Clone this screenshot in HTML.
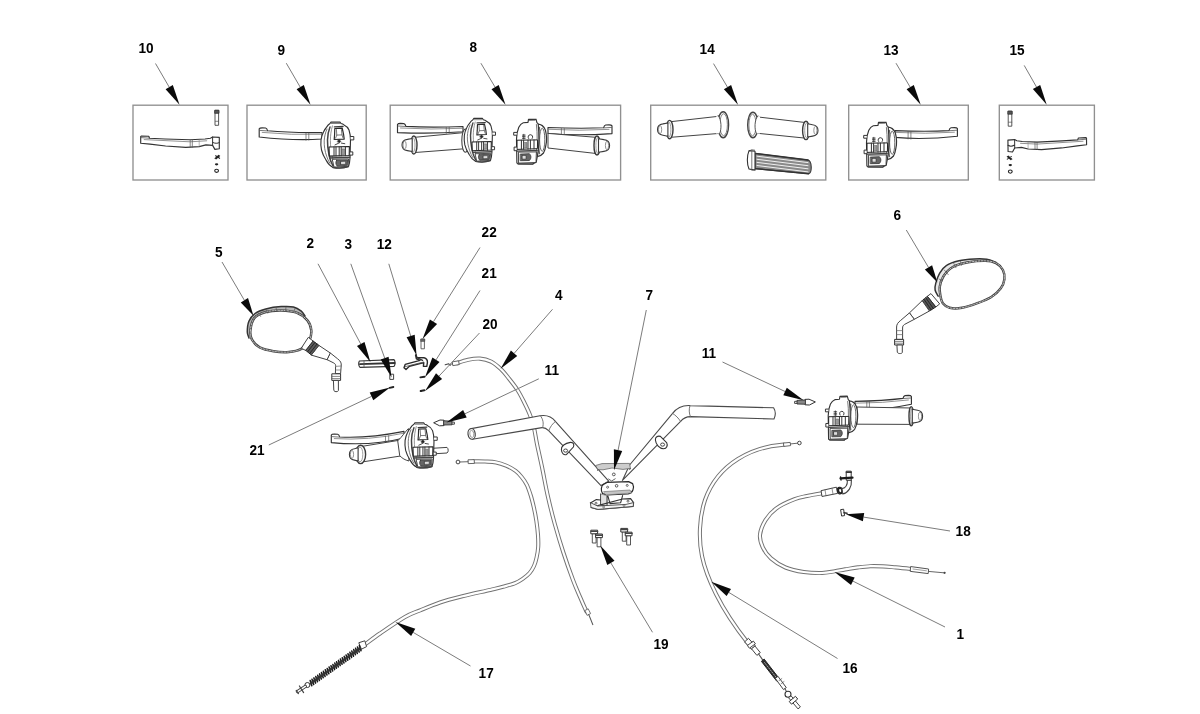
<!DOCTYPE html>
<html><head><meta charset="utf-8"><title>Handlebar - controls</title>
<style>
html,body{margin:0;padding:0;background:#fff;}
body{width:1200px;height:714px;overflow:hidden;font-family:"Liberation Sans",sans-serif;}
svg{display:block;filter:blur(0.4px)}
.lb{font-family:"Liberation Sans",sans-serif;font-weight:700;font-size:13.6px;fill:#000;}
</style></head><body>
<svg width="1200" height="714" viewBox="0 0 1200 714">
<rect width="1200" height="714" fill="#fff"/>
<rect x="133" y="105.2" width="95.0" height="74.8" fill="none" stroke="#909090" stroke-width="1.35"/>
<rect x="247" y="105.2" width="119.2" height="74.8" fill="none" stroke="#909090" stroke-width="1.35"/>
<rect x="390.2" y="105.2" width="230.4" height="74.8" fill="none" stroke="#909090" stroke-width="1.35"/>
<rect x="650.7" y="105.2" width="175.1" height="74.8" fill="none" stroke="#909090" stroke-width="1.35"/>
<rect x="848.7" y="105.2" width="119.6" height="74.8" fill="none" stroke="#909090" stroke-width="1.35"/>
<rect x="999.3" y="105.2" width="95.1" height="74.8" fill="none" stroke="#909090" stroke-width="1.35"/>
<text transform="translate(138.5,52.7) scale(1,1.08)" class="lb">10</text>
<line x1="155.5" y1="63.5" x2="169.2" y2="87.1" stroke="#7c7c7c" stroke-width="1.0"/>
<polygon points="179.5,104.8 165.6,89.2 172.8,85.0" fill="#0a0a0a"/>
<path d="M215.4,110.3 h3.2 v15 h-3.2 Z" fill="#fff" stroke="#444" stroke-width="0.9" stroke-linejoin="round" stroke-linecap="round" />
<path d="M215,110.3 h4 v3 h-4 Z" fill="#555" stroke="#333" stroke-width="0.8" stroke-linejoin="round" stroke-linecap="round" />
<path d="M215.4,121.3 h3.2" fill="none" stroke="#555" stroke-width="0.7" stroke-linejoin="round" stroke-linecap="round" />
<g transform="translate(140.7,137) rotate(0) scale(1,1)">
<path d="M0,0 L0,-0.6 L0.8,-1 L8.1,-0.7 L8.8,1.2 L24.3,2 L49.5,2.8 L64.3,2 L69.7,1.2 L71.9,0 L78.6,0.4 L78.6,11.8 L74.2,12.4 L71.9,8.4 L65.2,7.9 L58.5,9.6 L45.1,10.4 L24.9,9 L9.3,7.1 L0,6.2 Z" fill="#fff" stroke="#333" stroke-width="1.15" stroke-linejoin="round" stroke-linecap="round" />
<path d="M3.5,2.6 L49.5,4.8 L66,3.8" fill="none" stroke="#777" stroke-width="0.8" stroke-linejoin="round" stroke-linecap="round" />
<path d="M0.4,0.6 L8.4,1.2" fill="none" stroke="#555" stroke-width="0.8" stroke-linejoin="round" stroke-linecap="round" />
<path d="M49.5,2.8 V10.3 M51.6,2.8 V10.2" fill="none" stroke="#555" stroke-width="0.7" stroke-linejoin="round" stroke-linecap="round" />
<path d="M71.9,0 L71.9,8.4 M72,5.4 C74,6.6 77,6.6 78.6,5.6" fill="none" stroke="#333" stroke-width="1.0" stroke-linejoin="round" stroke-linecap="round" />
<path d="M58.5,3 L58.5,9.4" fill="none" stroke="#888" stroke-width="0.6" stroke-linejoin="round" stroke-linecap="round" />
</g>
<path d="M215.1,158.3 l3.5,-3 m-2.5,3.5 l3.5,-3 m-4,0 l4,2.5" fill="none" stroke="#222" stroke-width="1.1" stroke-linejoin="round" stroke-linecap="round" />
<ellipse cx="216.6" cy="164.3" rx="1.7" ry="1.1" fill="#222"/>
<ellipse cx="216.6" cy="170.8" rx="1.9" ry="1.6" fill="#fff" stroke="#222" stroke-width="1.1"/>
<text transform="translate(277.4,54.5) scale(1,1.08)" class="lb">9</text>
<line x1="286.3" y1="63.2" x2="300.2" y2="87.1" stroke="#7c7c7c" stroke-width="1.0"/>
<polygon points="310.5,104.8 296.6,89.2 303.8,85.0" fill="#0a0a0a"/>
<g transform="translate(259.2,130) scale(1,1)">
<path d="M0,0.2 L0,-1.2 C0.4,-2 1.6,-2.2 3,-2.2 L6.4,-2 C7.6,-1.8 8,-1 8.4,0.8 Q31.4,3.0 62.8,2.5 L62.8,9.0 Q34.5,10.8 0,7.0 Z" fill="#fff" stroke="#333" stroke-width="1.15" stroke-linejoin="round" stroke-linecap="round" />
<path d="M3,2.4 Q31.4,5.2 62.8,4.3" fill="none" stroke="#777" stroke-width="0.8" stroke-linejoin="round" stroke-linecap="round" />
<path d="M0.4,0.4 L8,0.9" fill="none" stroke="#555" stroke-width="0.8" stroke-linejoin="round" stroke-linecap="round" />
<path d="M46.8,3.2 l0,7.1 M49.6,3.2 l0,6.9" fill="none" stroke="#555" stroke-width="0.7" stroke-linejoin="round" stroke-linecap="round" />
</g>
<g transform="translate(336,145.5) scale(1.0,1.0)">
<path d="M-6,-22 L-5,-23.4 L4,-23.4 L5,-22 C6.4,-21.8 7.4,-21.2 8,-20.5 C10.6,-19.4 12.2,-17.6 13,-15.5 C14,-12.4 14.5,-9 14.5,-5.5 L14,12.5 C13.8,16 13.4,18.6 12.5,21 C8,22.6 2,22.8 -3,22 C-6,20.4 -8.4,17.8 -10,14.5 C-12,11.4 -13.6,8 -14.5,4.5 C-15.2,1 -15.3,-2.6 -15,-5.5 C-14.6,-8.4 -13.8,-11 -12.5,-13.5 C-11.8,-15 -11,-16.4 -10,-17.5 C-8.8,-19.6 -7.4,-21.2 -6,-22 Z" fill="#fff" stroke="#333" stroke-width="1.15" stroke-linejoin="round" stroke-linecap="round" />
<path d="M-6,-18.5 C-7.6,-14.6 -8.4,-10 -8.5,-5.5 C-8.6,-0.4 -8,4.6 -7,9.5 C-6.2,13.6 -4.8,17.2 -3,20.5" fill="none" stroke="#444" stroke-width="1.5" stroke-linejoin="round" stroke-linecap="round" />
<path d="M-9,-16.4 C-10.8,-12.6 -11.6,-8.6 -11.8,-4.6 C-12,0.6 -11,6 -9.4,10.6 C-8.6,13.2 -7.4,15.8 -6,18" fill="none" stroke="#666" stroke-width="0.9" stroke-linejoin="round" stroke-linecap="round" />
<path d="M-3.6,-19.6 C-5,-14.6 -5.6,-10 -5.6,-5 C-5.6,0 -5,5 -4,9.6 C-3.4,13.4 -2.2,17.4 -0.6,21" fill="none" stroke="#777" stroke-width="0.8" stroke-linejoin="round" stroke-linecap="round" />
<path d="M-4.6,-22 L3.6,-22" fill="none" stroke="#666" stroke-width="0.8" stroke-linejoin="round" stroke-linecap="round" />
<path d="M-1.2,-17 L6.2,-17.4 L7.6,-11 L8.2,-6.4 L-1.8,-6 L-1.4,-11 Z" fill="#fff" stroke="#2a2a2a" stroke-width="1.2" stroke-linejoin="round" stroke-linecap="round" />
<path d="M0.4,-16 L0.8,-10.4 L-0.4,-7.4 M5.4,-16 L6,-10.6 L7,-7.6 M0.8,-10.4 L6,-10.6" fill="none" stroke="#555" stroke-width="0.8" stroke-linejoin="round" stroke-linecap="round" />
<path d="M-1.6,-18.6 L7,-19" fill="none" stroke="#3a3a3a" stroke-width="1.4" stroke-linejoin="round" stroke-linecap="round" />
<path d="M1.4,-4.4 l1.8,-1.4 l1.6,1.6 l-1.6,1.8 Z" fill="#222" stroke="#222" stroke-width="0.6" stroke-linejoin="round" stroke-linecap="round" />
<path d="M-1,-0.6 l3.4,-1.6 M5.4,-2.4 l3.4,0.6" fill="none" stroke="#333" stroke-width="0.9" stroke-linejoin="round" stroke-linecap="round" />
<path d="M-7,1.5 L13.4,1 L13.2,10 L-6.6,10.6 Z" fill="#fff" stroke="#222" stroke-width="1.1" stroke-linejoin="round" stroke-linecap="round" />
<path d="M-2,1.4 L-2,10.4 M0,1.4 L0,10.4 M3.2,1.3 L3.2,10.3 M5.2,1.3 L5.2,10.3 M9.4,1.2 L9.4,10.2" fill="none" stroke="#333" stroke-width="1.0" stroke-linejoin="round" stroke-linecap="round" />
<path d="M6,3.4 L8.6,3.4 L8.6,9 L6,9 Z" fill="#999" stroke="#555" stroke-width="0.5" stroke-linejoin="round" stroke-linecap="round" />
<path d="M-6.4,12.4 L13.6,11.8" fill="none" stroke="#444" stroke-width="1.5" stroke-linejoin="round" stroke-linecap="round" />
<path d="M-3.4,13.8 L12.6,13.4 L12,20.8 L-1.6,21.6 Z" fill="#fff" stroke="#333" stroke-width="0.9" stroke-linejoin="round" stroke-linecap="round" />
<path d="M0.6,14.8 L11.6,14.4 L11.2,19.8 L1.2,20.6 C-0.4,19 -0.6,16.4 0.6,14.8 Z" fill="#666" stroke="#333" stroke-width="0.8" stroke-linejoin="round" stroke-linecap="round" />
<path d="M5,16 L9.6,15.8 L9.6,18.8 L5,19 Z" fill="#ddd" stroke="#222" stroke-width="0.5" stroke-linejoin="round" stroke-linecap="round" />
<path d="M-3,22 C2,22.9 8,22.8 12.4,21.2" fill="none" stroke="#444" stroke-width="1.3" stroke-linejoin="round" stroke-linecap="round" />
<path d="M14.6,-9 h3.2 v3.4 h-3.2" fill="#fff" stroke="#333" stroke-width="1.0" stroke-linejoin="round" stroke-linecap="round" />
<path d="M14.2,6.4 h2.6 v3.2 h-2.6" fill="#fff" stroke="#333" stroke-width="1.0" stroke-linejoin="round" stroke-linecap="round" />
</g>
<text transform="translate(469.5,52.3) scale(1,1.08)" class="lb">8</text>
<line x1="480.9" y1="63.2" x2="495.1" y2="87.2" stroke="#7c7c7c" stroke-width="1.0"/>
<polygon points="505.5,104.8 491.5,89.3 498.7,85.0" fill="#0a0a0a"/>
<g transform="translate(397.5,125.6) scale(1,1)">
<path d="M0,0.2 L0,-1.2 C0.4,-2 1.6,-2.2 3,-2.2 L6.4,-2 C7.6,-1.8 8,-1 8.4,0.8 Q32.8,2.1 65.5,0.9 L65.5,6.1 Q36.0,8.5 0,7.0 Z" fill="#fff" stroke="#333" stroke-width="1.15" stroke-linejoin="round" stroke-linecap="round" />
<path d="M3,2.4 Q32.8,4.3 65.5,2.7" fill="none" stroke="#777" stroke-width="0.8" stroke-linejoin="round" stroke-linecap="round" />
<path d="M0.4,0.4 L8,0.9" fill="none" stroke="#555" stroke-width="0.8" stroke-linejoin="round" stroke-linecap="round" />
<path d="M48.8,1.9 l0,5.8 M51.7,1.8 l0,5.6" fill="none" stroke="#555" stroke-width="0.7" stroke-linejoin="round" stroke-linecap="round" />
</g>
<path d="M413.8,137.4 L464,132.6 L464,148.8 L413.8,152.6 Z" fill="#fff" stroke="#444" stroke-width="1.0" stroke-linejoin="round" stroke-linecap="round" />
<ellipse cx="413.8" cy="145" rx="3.2" ry="9" fill="#fff" stroke="#3a3a3a" stroke-width="1.4"/>
<ellipse cx="413.2" cy="145" rx="1.8" ry="7.2" fill="#fff" stroke="#777" stroke-width="0.7"/>
<path d="M412.2,138.5 L407.3,139.4 C403.4,140.0 402,141.9 402,145 C402,148.1 403.4,150.0 407.3,150.6 L412.2,151.5 Z" fill="#fff" stroke="#3a3a3a" stroke-width="1.1" stroke-linejoin="round" stroke-linecap="round" />
<ellipse cx="404.6" cy="145" rx="1.6" ry="4.0" fill="none" stroke="#777" stroke-width="0.8"/>
<ellipse cx="465.4" cy="140.6" rx="3.6" ry="11.6" fill="#fff" stroke="#444" stroke-width="1.1"/>
<g transform="translate(478.6,140.6) scale(0.95,0.95)">
<path d="M-6,-22 L-5,-23.4 L4,-23.4 L5,-22 C6.4,-21.8 7.4,-21.2 8,-20.5 C10.6,-19.4 12.2,-17.6 13,-15.5 C14,-12.4 14.5,-9 14.5,-5.5 L14,12.5 C13.8,16 13.4,18.6 12.5,21 C8,22.6 2,22.8 -3,22 C-6,20.4 -8.4,17.8 -10,14.5 C-12,11.4 -13.6,8 -14.5,4.5 C-15.2,1 -15.3,-2.6 -15,-5.5 C-14.6,-8.4 -13.8,-11 -12.5,-13.5 C-11.8,-15 -11,-16.4 -10,-17.5 C-8.8,-19.6 -7.4,-21.2 -6,-22 Z" fill="#fff" stroke="#333" stroke-width="1.15" stroke-linejoin="round" stroke-linecap="round" />
<path d="M-6,-18.5 C-7.6,-14.6 -8.4,-10 -8.5,-5.5 C-8.6,-0.4 -8,4.6 -7,9.5 C-6.2,13.6 -4.8,17.2 -3,20.5" fill="none" stroke="#444" stroke-width="1.5" stroke-linejoin="round" stroke-linecap="round" />
<path d="M-9,-16.4 C-10.8,-12.6 -11.6,-8.6 -11.8,-4.6 C-12,0.6 -11,6 -9.4,10.6 C-8.6,13.2 -7.4,15.8 -6,18" fill="none" stroke="#666" stroke-width="0.9" stroke-linejoin="round" stroke-linecap="round" />
<path d="M-3.6,-19.6 C-5,-14.6 -5.6,-10 -5.6,-5 C-5.6,0 -5,5 -4,9.6 C-3.4,13.4 -2.2,17.4 -0.6,21" fill="none" stroke="#777" stroke-width="0.8" stroke-linejoin="round" stroke-linecap="round" />
<path d="M-4.6,-22 L3.6,-22" fill="none" stroke="#666" stroke-width="0.8" stroke-linejoin="round" stroke-linecap="round" />
<path d="M-1.2,-17 L6.2,-17.4 L7.6,-11 L8.2,-6.4 L-1.8,-6 L-1.4,-11 Z" fill="#fff" stroke="#2a2a2a" stroke-width="1.2" stroke-linejoin="round" stroke-linecap="round" />
<path d="M0.4,-16 L0.8,-10.4 L-0.4,-7.4 M5.4,-16 L6,-10.6 L7,-7.6 M0.8,-10.4 L6,-10.6" fill="none" stroke="#555" stroke-width="0.8" stroke-linejoin="round" stroke-linecap="round" />
<path d="M-1.6,-18.6 L7,-19" fill="none" stroke="#3a3a3a" stroke-width="1.4" stroke-linejoin="round" stroke-linecap="round" />
<path d="M1.4,-4.4 l1.8,-1.4 l1.6,1.6 l-1.6,1.8 Z" fill="#222" stroke="#222" stroke-width="0.6" stroke-linejoin="round" stroke-linecap="round" />
<path d="M-1,-0.6 l3.4,-1.6 M5.4,-2.4 l3.4,0.6" fill="none" stroke="#333" stroke-width="0.9" stroke-linejoin="round" stroke-linecap="round" />
<path d="M-7,1.5 L13.4,1 L13.2,10 L-6.6,10.6 Z" fill="#fff" stroke="#222" stroke-width="1.1" stroke-linejoin="round" stroke-linecap="round" />
<path d="M-2,1.4 L-2,10.4 M0,1.4 L0,10.4 M3.2,1.3 L3.2,10.3 M5.2,1.3 L5.2,10.3 M9.4,1.2 L9.4,10.2" fill="none" stroke="#333" stroke-width="1.0" stroke-linejoin="round" stroke-linecap="round" />
<path d="M6,3.4 L8.6,3.4 L8.6,9 L6,9 Z" fill="#999" stroke="#555" stroke-width="0.5" stroke-linejoin="round" stroke-linecap="round" />
<path d="M-6.4,12.4 L13.6,11.8" fill="none" stroke="#444" stroke-width="1.5" stroke-linejoin="round" stroke-linecap="round" />
<path d="M-3.4,13.8 L12.6,13.4 L12,20.8 L-1.6,21.6 Z" fill="#fff" stroke="#333" stroke-width="0.9" stroke-linejoin="round" stroke-linecap="round" />
<path d="M0.6,14.8 L11.6,14.4 L11.2,19.8 L1.2,20.6 C-0.4,19 -0.6,16.4 0.6,14.8 Z" fill="#666" stroke="#333" stroke-width="0.8" stroke-linejoin="round" stroke-linecap="round" />
<path d="M5,16 L9.6,15.8 L9.6,18.8 L5,19 Z" fill="#ddd" stroke="#222" stroke-width="0.5" stroke-linejoin="round" stroke-linecap="round" />
<path d="M-3,22 C2,22.9 8,22.8 12.4,21.2" fill="none" stroke="#444" stroke-width="1.3" stroke-linejoin="round" stroke-linecap="round" />
<path d="M14.6,-9 h3.2 v3.4 h-3.2" fill="#fff" stroke="#333" stroke-width="1.0" stroke-linejoin="round" stroke-linecap="round" />
<path d="M14.2,6.4 h2.6 v3.2 h-2.6" fill="#fff" stroke="#333" stroke-width="1.0" stroke-linejoin="round" stroke-linecap="round" />
</g>
<g transform="translate(612,127) scale(-1,1)">
<path d="M0,0.2 L0,-1.2 C0.4,-2 1.6,-2.2 3,-2.2 L6.4,-2 C7.6,-1.8 8,-1 8.4,0.8 Q32.0,1.9 64.0,0.5 L64.0,6.5 Q35.2,9.0 0,6.6 Z" fill="#fff" stroke="#333" stroke-width="1.15" stroke-linejoin="round" stroke-linecap="round" />
<path d="M3,2.4 Q32.0,4.1 64.0,2.3" fill="none" stroke="#777" stroke-width="0.8" stroke-linejoin="round" stroke-linecap="round" />
<path d="M0.4,0.4 L8,0.9" fill="none" stroke="#555" stroke-width="0.8" stroke-linejoin="round" stroke-linecap="round" />
<path d="M47.7,1.6 l0,6.6 M50.6,1.5 l0,6.4" fill="none" stroke="#555" stroke-width="0.7" stroke-linejoin="round" stroke-linecap="round" />
</g>
<path d="M597,137.4 L548,133.4 L548,148 L597,153.6 Z" fill="#fff" stroke="#444" stroke-width="1.0" stroke-linejoin="round" stroke-linecap="round" />
<ellipse cx="597" cy="145.5" rx="3" ry="9.5" fill="#fff" stroke="#3a3a3a" stroke-width="1.4"/>
<ellipse cx="597.6" cy="145.5" rx="1.7" ry="7.7" fill="#fff" stroke="#777" stroke-width="0.7"/>
<path d="M598.5,138.7 L603.9,139.6 C608.1,140.2 609.6,142.3 609.6,145.5 C609.6,148.7 608.1,150.8 603.9,151.4 L598.5,152.3 Z" fill="#fff" stroke="#3a3a3a" stroke-width="1.1" stroke-linejoin="round" stroke-linecap="round" />
<ellipse cx="607.0" cy="145.5" rx="1.6" ry="4.2" fill="none" stroke="#777" stroke-width="0.8"/>
<g transform="translate(531,141.5) scale(1.0)">
<path d="M6.6,-17.4 C10,-17.4 13,-15 14.4,-11.4 C15.8,-6 15.8,0 14.8,4.2 C14.2,8 13.4,10 12.5,11.5 C10.6,13.8 8.6,15 6.1,15.2 Z" fill="#fff" stroke="#333" stroke-width="1.2" stroke-linejoin="round" stroke-linecap="round" />
<ellipse cx="11.2" cy="-1.8" rx="2.6" ry="11.6" fill="#fff" stroke="#555" stroke-width="0.9"/>
<path d="M8.4,-14 C7,-8 7,6 8.4,12" fill="none" stroke="#666" stroke-width="1.6" stroke-linejoin="round" stroke-linecap="round" />
<path d="M-14.1,21.6 L-14.5,-2.2 C-14.4,-7 -13.6,-11 -12.2,-14.2 C-11,-16.6 -9.6,-18 -7.7,-18.7 L-3,-19.1 L-2.5,-22.1 L5,-22.3 L6,-18.7 C6.6,-18.4 7,-18 7.2,-17.4 C8.2,-8 8.2,4 6.6,13.4 L5.2,20.7 L1.5,22.5 L-12.4,22.5 Z" fill="#fff" stroke="#333" stroke-width="1.15" stroke-linejoin="round" stroke-linecap="round" />
<path d="M-1.6,-21 L4,-21.2" fill="none" stroke="#666" stroke-width="0.8" stroke-linejoin="round" stroke-linecap="round" />
<path d="M5.4,-17 C6.6,-8 6.4,4 5,13" fill="none" stroke="#777" stroke-width="1.0" stroke-linejoin="round" stroke-linecap="round" />
<path d="M-8.6,-6.4 l2.8,0 m-2.8,1.6 l2.8,0 m-2.8,1.6 l2.8,0 m-1.4,-4 l0,4.6" fill="none" stroke="#222" stroke-width="0.8" stroke-linejoin="round" stroke-linecap="round" />
<path d="M-2.4,-3 C-3.6,-4.6 -2.6,-6.8 -0.6,-6.8 C1.4,-6.8 2.4,-4.6 1.2,-3" fill="none" stroke="#222" stroke-width="0.9" stroke-linejoin="round" stroke-linecap="round" />
<path d="M-13.6,-1.3 L6.6,-1.6 L6.4,7.2 L-13.6,7.9 Z" fill="#fff" stroke="#222" stroke-width="1.0" stroke-linejoin="round" stroke-linecap="round" />
<path d="M-9.6,-1.3 L-9.6,7.8 M-7.4,-1.3 L-7.4,7.7" fill="none" stroke="#333" stroke-width="1.0" stroke-linejoin="round" stroke-linecap="round" />
<path d="M-3,-1.4 L-3,7.6 M-0.6,-1.4 L-0.6,7.5 M3,-1.5 L3,7.4" fill="none" stroke="#333" stroke-width="1.0" stroke-linejoin="round" stroke-linecap="round" />
<path d="M-6.4,1 L-4,1 L-4,6.4 L-6.4,6.4 Z" fill="#999" stroke="#555" stroke-width="0.5" stroke-linejoin="round" stroke-linecap="round" />
<path d="M-13.6,9.6 L6.2,8.8" fill="none" stroke="#444" stroke-width="1.3" stroke-linejoin="round" stroke-linecap="round" />
<path d="M-12.2,10.6 L5.4,10.4 L5,21 L-12,21.6 Z" fill="#fff" stroke="#333" stroke-width="0.9" stroke-linejoin="round" stroke-linecap="round" />
<path d="M-10.4,12.6 L-1.6,12.2 C0.4,14 0.4,17 -1.6,19 L-10.4,19.2 Z" fill="#666" stroke="#333" stroke-width="0.8" stroke-linejoin="round" stroke-linecap="round" />
<path d="M-8.6,14 L-5,14 L-5,17.6 L-8.6,17.6 Z" fill="#ddd" stroke="#222" stroke-width="0.5" stroke-linejoin="round" stroke-linecap="round" />
<path d="M-13,22.4 L2,22.6" fill="none" stroke="#444" stroke-width="1.2" stroke-linejoin="round" stroke-linecap="round" />
<path d="M-14.3,-9.1 h-3 v2.8 h3" fill="#fff" stroke="#333" stroke-width="1.0" stroke-linejoin="round" stroke-linecap="round" />
<path d="M-14.3,5.6 h-2.6 v3.6 h2.6" fill="#fff" stroke="#333" stroke-width="1.0" stroke-linejoin="round" stroke-linecap="round" />
</g>
<text transform="translate(699.6,53.7) scale(1,1.08)" class="lb">14</text>
<line x1="713.5" y1="63.6" x2="727.5" y2="87.2" stroke="#7c7c7c" stroke-width="1.0"/>
<polygon points="738.0,104.8 723.9,89.3 731.1,85.0" fill="#0a0a0a"/>
<path d="M669.6,121.8 L719.5,116.2 L719.5,133.4 L669.6,137.4 Z" fill="#fff" stroke="#444" stroke-width="1.0" stroke-linejoin="round" stroke-linecap="round" />
<ellipse cx="669.6" cy="129.6" rx="3.4" ry="9.2" fill="#fff" stroke="#3a3a3a" stroke-width="1.4"/>
<ellipse cx="669.0" cy="129.6" rx="1.9" ry="7.4" fill="#fff" stroke="#777" stroke-width="0.7"/>
<path d="M667.9,123.0 L662.9,123.9 C659.0,124.4 657.5,126.5 657.5,129.6 C657.5,132.7 659.0,134.8 662.9,135.3 L667.9,136.2 Z" fill="#fff" stroke="#3a3a3a" stroke-width="1.1" stroke-linejoin="round" stroke-linecap="round" />
<ellipse cx="660.1" cy="129.6" rx="1.6" ry="4.0" fill="none" stroke="#777" stroke-width="0.8"/>
<ellipse cx="723.2" cy="124.7" rx="5.4" ry="13" fill="#fff" stroke="#444" stroke-width="1.4"/>
<ellipse cx="723.6" cy="124.7" rx="3.8" ry="11" fill="#fff" stroke="#777" stroke-width="0.9"/>
<path d="M718.2,116 C721.6,120 721.8,129 719.4,133.4 L716,133.6 L716,116.4 Z" fill="#fff" stroke="#3c3c3c" stroke-width="0" stroke-linejoin="round" stroke-linecap="round" />
<path d="M718.2,115.4 C721.6,120 721.8,129 719.6,134" fill="none" stroke="#555" stroke-width="1.0" stroke-linejoin="round" stroke-linecap="round" />
<path d="M806,122.6 L756.6,116.8 L756.6,133.2 L806,138.2 Z" fill="#fff" stroke="#444" stroke-width="1.0" stroke-linejoin="round" stroke-linecap="round" />
<ellipse cx="806" cy="130.4" rx="3.4" ry="9.2" fill="#fff" stroke="#3a3a3a" stroke-width="1.4"/>
<ellipse cx="806.6" cy="130.4" rx="1.9" ry="7.4" fill="#fff" stroke="#777" stroke-width="0.7"/>
<path d="M807.7,123.8 L812.6,124.7 C816.6,125.2 818,127.3 818,130.4 C818,133.5 816.6,135.6 812.6,136.1 L807.7,137.0 Z" fill="#fff" stroke="#3a3a3a" stroke-width="1.1" stroke-linejoin="round" stroke-linecap="round" />
<ellipse cx="815.4" cy="130.4" rx="1.6" ry="4.0" fill="none" stroke="#777" stroke-width="0.8"/>
<ellipse cx="752.9" cy="125" rx="5.2" ry="12.8" fill="#fff" stroke="#444" stroke-width="1.4"/>
<ellipse cx="752.5" cy="125" rx="3.6" ry="10.8" fill="#fff" stroke="#777" stroke-width="0.9"/>
<path d="M757.8,116.2 C754.4,120 754.2,129 756.6,133.4 L760,133.6 L760,116.6 Z" fill="#fff" stroke="#3c3c3c" stroke-width="0" stroke-linejoin="round" stroke-linecap="round" />
<path d="M757.8,115.8 C754.4,120 754.2,129 756.4,133.8" fill="none" stroke="#555" stroke-width="1.0" stroke-linejoin="round" stroke-linecap="round" />
<path d="M755,153.4 L808,160 C812,161 812.4,172.6 808.6,173.8 L755,168.6 Z" fill="#8a8a8a" stroke="#3a3a3a" stroke-width="1.1" stroke-linejoin="round" stroke-linecap="round" />
<path d="M757,156.2 L808,162.6" fill="none" stroke="#f0f0f0" stroke-width="1.0" stroke-linejoin="round" stroke-linecap="round" />
<path d="M757,159.3 L808,165.7" fill="none" stroke="#f0f0f0" stroke-width="1.0" stroke-linejoin="round" stroke-linecap="round" />
<path d="M757,162.4 L808,168.8" fill="none" stroke="#f0f0f0" stroke-width="1.0" stroke-linejoin="round" stroke-linecap="round" />
<path d="M757,165.5 L808,171.9" fill="none" stroke="#f0f0f0" stroke-width="1.0" stroke-linejoin="round" stroke-linecap="round" />
<path d="M755,153.4 L808,160" fill="none" stroke="#333" stroke-width="1.4" stroke-linejoin="round" stroke-linecap="round" />
<path d="M755,168.6 L808.6,173.8" fill="none" stroke="#333" stroke-width="1.4" stroke-linejoin="round" stroke-linecap="round" />
<path d="M749,150.6 L755,151.2 L755,170 L749,169 C746.8,164 746.8,156 749,150.6 Z" fill="#fff" stroke="#333" stroke-width="1.1" stroke-linejoin="round" stroke-linecap="round" />
<path d="M751.8,151 L751.8,169.4" fill="none" stroke="#555" stroke-width="0.8" stroke-linejoin="round" stroke-linecap="round" />
<path d="M749.6,150.8 l2,-1 l3,0.4 M750,169.2 l2,1 l3,-0.2" fill="none" stroke="#444" stroke-width="0.8" stroke-linejoin="round" stroke-linecap="round" />
<text transform="translate(883.4,54.5) scale(1,1.08)" class="lb">13</text>
<line x1="896.0" y1="63.2" x2="910.2" y2="87.2" stroke="#7c7c7c" stroke-width="1.0"/>
<polygon points="920.7,104.8 906.6,89.3 913.8,85.0" fill="#0a0a0a"/>
<g transform="translate(957.4,129.8) scale(-1,1)">
<path d="M0,0.2 L0,-1.2 C0.4,-2 1.6,-2.2 3,-2.2 L6.4,-2 C7.6,-1.8 8,-1 8.4,0.8 Q31.2,2.2 62.4,0.8 L62.4,7.6 Q34.3,10.2 0,6.4 Z" fill="#fff" stroke="#333" stroke-width="1.15" stroke-linejoin="round" stroke-linecap="round" />
<path d="M3,2.4 Q31.2,4.4 62.4,2.6" fill="none" stroke="#777" stroke-width="0.8" stroke-linejoin="round" stroke-linecap="round" />
<path d="M0.4,0.4 L8,0.9" fill="none" stroke="#555" stroke-width="0.8" stroke-linejoin="round" stroke-linecap="round" />
<path d="M46.5,1.9 l0,7.4 M49.3,1.9 l0,7.2" fill="none" stroke="#555" stroke-width="0.7" stroke-linejoin="round" stroke-linecap="round" />
</g>
<g transform="translate(881,144.5) scale(1.0)">
<path d="M6.6,-17.4 C10,-17.4 13,-15 14.4,-11.4 C15.8,-6 15.8,0 14.8,4.2 C14.2,8 13.4,10 12.5,11.5 C10.6,13.8 8.6,15 6.1,15.2 Z" fill="#fff" stroke="#333" stroke-width="1.2" stroke-linejoin="round" stroke-linecap="round" />
<ellipse cx="11.2" cy="-1.8" rx="2.6" ry="11.6" fill="#fff" stroke="#555" stroke-width="0.9"/>
<path d="M8.4,-14 C7,-8 7,6 8.4,12" fill="none" stroke="#666" stroke-width="1.6" stroke-linejoin="round" stroke-linecap="round" />
<path d="M-14.1,21.6 L-14.5,-2.2 C-14.4,-7 -13.6,-11 -12.2,-14.2 C-11,-16.6 -9.6,-18 -7.7,-18.7 L-3,-19.1 L-2.5,-22.1 L5,-22.3 L6,-18.7 C6.6,-18.4 7,-18 7.2,-17.4 C8.2,-8 8.2,4 6.6,13.4 L5.2,20.7 L1.5,22.5 L-12.4,22.5 Z" fill="#fff" stroke="#333" stroke-width="1.15" stroke-linejoin="round" stroke-linecap="round" />
<path d="M-1.6,-21 L4,-21.2" fill="none" stroke="#666" stroke-width="0.8" stroke-linejoin="round" stroke-linecap="round" />
<path d="M5.4,-17 C6.6,-8 6.4,4 5,13" fill="none" stroke="#777" stroke-width="1.0" stroke-linejoin="round" stroke-linecap="round" />
<path d="M-8.6,-6.4 l2.8,0 m-2.8,1.6 l2.8,0 m-2.8,1.6 l2.8,0 m-1.4,-4 l0,4.6" fill="none" stroke="#222" stroke-width="0.8" stroke-linejoin="round" stroke-linecap="round" />
<path d="M-2.4,-3 C-3.6,-4.6 -2.6,-6.8 -0.6,-6.8 C1.4,-6.8 2.4,-4.6 1.2,-3" fill="none" stroke="#222" stroke-width="0.9" stroke-linejoin="round" stroke-linecap="round" />
<path d="M-13.6,-1.3 L6.6,-1.6 L6.4,7.2 L-13.6,7.9 Z" fill="#fff" stroke="#222" stroke-width="1.0" stroke-linejoin="round" stroke-linecap="round" />
<path d="M-9.6,-1.3 L-9.6,7.8 M-7.4,-1.3 L-7.4,7.7" fill="none" stroke="#333" stroke-width="1.0" stroke-linejoin="round" stroke-linecap="round" />
<path d="M-3,-1.4 L-3,7.6 M-0.6,-1.4 L-0.6,7.5 M3,-1.5 L3,7.4" fill="none" stroke="#333" stroke-width="1.0" stroke-linejoin="round" stroke-linecap="round" />
<path d="M-6.4,1 L-4,1 L-4,6.4 L-6.4,6.4 Z" fill="#999" stroke="#555" stroke-width="0.5" stroke-linejoin="round" stroke-linecap="round" />
<path d="M-13.6,9.6 L6.2,8.8" fill="none" stroke="#444" stroke-width="1.3" stroke-linejoin="round" stroke-linecap="round" />
<path d="M-12.2,10.6 L5.4,10.4 L5,21 L-12,21.6 Z" fill="#fff" stroke="#333" stroke-width="0.9" stroke-linejoin="round" stroke-linecap="round" />
<path d="M-10.4,12.6 L-1.6,12.2 C0.4,14 0.4,17 -1.6,19 L-10.4,19.2 Z" fill="#666" stroke="#333" stroke-width="0.8" stroke-linejoin="round" stroke-linecap="round" />
<path d="M-8.6,14 L-5,14 L-5,17.6 L-8.6,17.6 Z" fill="#ddd" stroke="#222" stroke-width="0.5" stroke-linejoin="round" stroke-linecap="round" />
<path d="M-13,22.4 L2,22.6" fill="none" stroke="#444" stroke-width="1.2" stroke-linejoin="round" stroke-linecap="round" />
<path d="M-14.3,-9.1 h-3 v2.8 h3" fill="#fff" stroke="#333" stroke-width="1.0" stroke-linejoin="round" stroke-linecap="round" />
<path d="M-14.3,5.6 h-2.6 v3.6 h2.6" fill="#fff" stroke="#333" stroke-width="1.0" stroke-linejoin="round" stroke-linecap="round" />
</g>
<text transform="translate(1009.4,54.5) scale(1,1.08)" class="lb">15</text>
<line x1="1024.2" y1="65.4" x2="1036.5" y2="87.0" stroke="#7c7c7c" stroke-width="1.0"/>
<polygon points="1046.7,104.8 1032.9,89.1 1040.2,84.9" fill="#0a0a0a"/>
<path d="M1008.6,111.2 h3.2 v15 h-3.2 Z" fill="#fff" stroke="#444" stroke-width="0.9" stroke-linejoin="round" stroke-linecap="round" />
<path d="M1008.2,111.2 h4 v3 h-4 Z" fill="#555" stroke="#333" stroke-width="0.8" stroke-linejoin="round" stroke-linecap="round" />
<path d="M1008.6,122.2 h3.2" fill="none" stroke="#555" stroke-width="0.7" stroke-linejoin="round" stroke-linecap="round" />
<g transform="translate(1086.5,138.6) rotate(-0.8) scale(-1,1)">
<path d="M0,0 L0,-0.6 L0.8,-1 L8.1,-0.7 L8.8,1.2 L24.3,2 L49.5,2.8 L64.3,2 L69.7,1.2 L71.9,0 L78.6,0.4 L78.6,11.8 L74.2,12.4 L71.9,8.4 L65.2,7.9 L58.5,9.6 L45.1,10.4 L24.9,9 L9.3,7.1 L0,6.2 Z" fill="#fff" stroke="#333" stroke-width="1.15" stroke-linejoin="round" stroke-linecap="round" />
<path d="M3.5,2.6 L49.5,4.8 L66,3.8" fill="none" stroke="#777" stroke-width="0.8" stroke-linejoin="round" stroke-linecap="round" />
<path d="M0.4,0.6 L8.4,1.2" fill="none" stroke="#555" stroke-width="0.8" stroke-linejoin="round" stroke-linecap="round" />
<path d="M49.5,2.8 V10.3 M51.6,2.8 V10.2" fill="none" stroke="#555" stroke-width="0.7" stroke-linejoin="round" stroke-linecap="round" />
<path d="M71.9,0 L71.9,8.4 M72,5.4 C74,6.6 77,6.6 78.6,5.6" fill="none" stroke="#333" stroke-width="1.0" stroke-linejoin="round" stroke-linecap="round" />
<path d="M58.5,3 L58.5,9.4" fill="none" stroke="#888" stroke-width="0.6" stroke-linejoin="round" stroke-linecap="round" />
</g>
<g transform="translate(2020.6,0) scale(-1,1)">
<path d="M1008.8,159.1 l3.5,-3 m-2.5,3.5 l3.5,-3 m-4,0 l4,2.5" fill="none" stroke="#222" stroke-width="1.1" stroke-linejoin="round" stroke-linecap="round" />
<ellipse cx="1010.3" cy="165.1" rx="1.7" ry="1.1" fill="#222"/>
<ellipse cx="1010.3" cy="171.6" rx="1.9" ry="1.6" fill="#fff" stroke="#222" stroke-width="1.1"/>
</g>
<path d="M457.0,363.2 C458.8,362.6 464.2,360.6 468.0,359.8 C471.8,359.0 476.2,358.3 480.0,358.6 C483.8,358.9 487.6,359.9 491.0,361.6 C494.4,363.3 497.5,366.0 500.5,368.8 C503.5,371.6 506.2,375.1 509.0,378.6 C511.8,382.1 515.0,386.1 517.5,390.0 C520.0,393.9 521.9,397.8 524.0,402.0 C526.1,406.2 528.3,410.7 530.0,415.0 C531.7,419.3 532.8,423.2 534.0,428.0 C535.2,432.8 535.6,437.3 537.0,444.0 C538.4,450.7 540.4,459.3 542.2,468.0 C544.0,476.7 545.7,486.7 547.8,496.0 C549.9,505.3 552.2,514.7 554.8,524.0 C557.4,533.3 560.2,542.7 563.2,552.0 C566.2,561.3 570.2,572.5 573.0,580.0 C575.8,587.5 577.8,591.7 580.0,596.9 C582.2,602.1 585.3,609.0 586.4,611.4 " fill="none" stroke="#727272" stroke-width="4.1" stroke-linecap="round"/>
<path d="M457.0,363.2 C458.8,362.6 464.2,360.6 468.0,359.8 C471.8,359.0 476.2,358.3 480.0,358.6 C483.8,358.9 487.6,359.9 491.0,361.6 C494.4,363.3 497.5,366.0 500.5,368.8 C503.5,371.6 506.2,375.1 509.0,378.6 C511.8,382.1 515.0,386.1 517.5,390.0 C520.0,393.9 521.9,397.8 524.0,402.0 C526.1,406.2 528.3,410.7 530.0,415.0 C531.7,419.3 532.8,423.2 534.0,428.0 C535.2,432.8 535.6,437.3 537.0,444.0 C538.4,450.7 540.4,459.3 542.2,468.0 C544.0,476.7 545.7,486.7 547.8,496.0 C549.9,505.3 552.2,514.7 554.8,524.0 C557.4,533.3 560.2,542.7 563.2,552.0 C566.2,561.3 570.2,572.5 573.0,580.0 C575.8,587.5 577.8,591.7 580.0,596.9 C582.2,602.1 585.3,609.0 586.4,611.4 " fill="none" stroke="#fff" stroke-width="2.2" stroke-linecap="round"/>
<path d="M445.2,364.8 l3.6,-1 l1.4,1.6" fill="none" stroke="#444" stroke-width="1.1" stroke-linejoin="round" stroke-linecap="round" />
<path d="M450,364.4 L457,363" fill="none" stroke="#555" stroke-width="0.9" stroke-linejoin="round" stroke-linecap="round" />
<path d="M452.6,361.8 L458.6,360.8 L459.2,364.6 L453.2,365.6 Z" fill="#fff" stroke="#555" stroke-width="0.9" stroke-linejoin="round" stroke-linecap="round" />
<path d="M585.2,610.4 L588.2,608.8 L590.6,613.6 L587.4,615.2 Z" fill="#fff" stroke="#555" stroke-width="0.8" stroke-linejoin="round" stroke-linecap="round" />
<path d="M588.8,614.6 L592.8,624.6" fill="none" stroke="#555" stroke-width="1.1" stroke-linejoin="round" stroke-linecap="round" />
<path d="M474.0,461.4 C475.8,461.4 481.3,461.3 485.0,461.5 C488.7,461.7 492.5,461.7 496.0,462.4 C499.5,463.1 502.7,464.2 506.0,465.6 C509.3,467.0 513.0,468.9 515.6,470.8 C518.2,472.7 519.7,474.7 521.6,477.0 C523.5,479.3 525.3,481.8 526.8,484.8 C528.3,487.8 529.4,491.3 530.6,495.0 C531.8,498.7 532.8,502.9 533.8,507.2 C534.8,511.5 535.7,516.3 536.4,521.0 C537.1,525.7 537.7,530.9 538.0,535.2 C538.3,539.5 538.4,543.3 538.2,547.0 C538.0,550.7 537.3,554.4 536.6,557.6 C535.9,560.8 535.2,563.4 534.0,566.0 C532.8,568.6 531.4,570.9 529.6,573.0 C527.8,575.1 525.3,577.0 523.0,578.6 C520.7,580.2 518.9,581.5 515.6,582.9 C512.3,584.3 507.2,585.6 503.0,586.8 C498.8,588.0 497.2,588.3 490.4,589.9 C483.6,591.5 470.8,594.2 462.4,596.3 C454.0,598.4 447.1,600.1 440.0,602.5 C432.9,604.9 425.8,608.0 420.0,610.4 C414.2,612.8 411.7,613.1 405.0,617.0 C398.3,620.9 386.7,628.9 380.0,633.5 C373.3,638.1 367.2,642.8 364.6,644.6 " fill="none" stroke="#727272" stroke-width="4.1" stroke-linecap="round"/>
<path d="M474.0,461.4 C475.8,461.4 481.3,461.3 485.0,461.5 C488.7,461.7 492.5,461.7 496.0,462.4 C499.5,463.1 502.7,464.2 506.0,465.6 C509.3,467.0 513.0,468.9 515.6,470.8 C518.2,472.7 519.7,474.7 521.6,477.0 C523.5,479.3 525.3,481.8 526.8,484.8 C528.3,487.8 529.4,491.3 530.6,495.0 C531.8,498.7 532.8,502.9 533.8,507.2 C534.8,511.5 535.7,516.3 536.4,521.0 C537.1,525.7 537.7,530.9 538.0,535.2 C538.3,539.5 538.4,543.3 538.2,547.0 C538.0,550.7 537.3,554.4 536.6,557.6 C535.9,560.8 535.2,563.4 534.0,566.0 C532.8,568.6 531.4,570.9 529.6,573.0 C527.8,575.1 525.3,577.0 523.0,578.6 C520.7,580.2 518.9,581.5 515.6,582.9 C512.3,584.3 507.2,585.6 503.0,586.8 C498.8,588.0 497.2,588.3 490.4,589.9 C483.6,591.5 470.8,594.2 462.4,596.3 C454.0,598.4 447.1,600.1 440.0,602.5 C432.9,604.9 425.8,608.0 420.0,610.4 C414.2,612.8 411.7,613.1 405.0,617.0 C398.3,620.9 386.7,628.9 380.0,633.5 C373.3,638.1 367.2,642.8 364.6,644.6 " fill="none" stroke="#fff" stroke-width="2.2" stroke-linecap="round"/>
<circle cx="458" cy="462" r="1.9" fill="#fff" stroke="#444" stroke-width="1"/>
<path d="M460,462 L468.4,461.7" fill="none" stroke="#555" stroke-width="0.9" stroke-linejoin="round" stroke-linecap="round" />
<path d="M468.4,459.8 L474.2,459.6 L474.4,463.4 L468.6,463.6 Z" fill="#fff" stroke="#555" stroke-width="0.9" stroke-linejoin="round" stroke-linecap="round" />
<path d="M359.2,642.6 L364.8,640.8 L366.6,646.6 L361.4,649.2 Z" fill="#fff" stroke="#444" stroke-width="1.0" stroke-linejoin="round" stroke-linecap="round" />
<path d="M359.4,645.6 L361.0,650.8 M357.5,647.0 L359.2,652.1 M355.6,648.3 L357.3,653.5 M353.7,649.6 L355.4,654.8 M351.8,651.0 L353.5,656.2 M349.9,652.3 L351.6,657.5 M348.0,653.7 L349.7,658.9 M346.1,655.0 L347.8,660.2 M344.2,656.4 L345.9,661.6 M342.3,657.7 L344.0,662.9 M340.4,659.1 L342.1,664.3 M338.5,660.4 L340.2,665.6 M336.6,661.8 L338.3,666.9 M334.8,663.1 L336.4,668.3 M332.9,664.5 L334.6,669.6 M331.0,665.8 L332.7,671.0 M329.1,667.1 L330.8,672.3 M327.2,668.5 L328.9,673.7 M325.3,669.8 L327.0,675.0 M323.4,671.2 L325.1,676.4 M321.5,672.5 L323.2,677.7 M319.6,673.9 L321.3,679.1 M317.7,675.2 L319.4,680.4 M315.8,676.6 L317.5,681.8 M313.9,677.9 L315.6,683.1 M312.0,679.3 L313.7,684.4 M310.2,680.6 L311.8,685.8 " fill="none" stroke="#1a1a1a" stroke-width="1.55" stroke-linejoin="round" stroke-linecap="round" />
<path d="M360.2,648.2 L311,683.2" fill="none" stroke="#333" stroke-width="2.6" stroke-linejoin="round" stroke-linecap="round" />
<circle cx="307.4" cy="685" r="2.5" fill="#fff" stroke="#333" stroke-width="1"/>
<path d="M305.4,686.4 L297.4,691.6" fill="none" stroke="#444" stroke-width="3.2" stroke-linejoin="round" stroke-linecap="round" />
<path d="M305.4,686.4 L297.2,691.8" fill="none" stroke="#fff" stroke-width="1.4" stroke-linejoin="round" stroke-linecap="round" />
<path d="M299.4,686 L303.6,692.6" fill="none" stroke="#444" stroke-width="1.2" stroke-linejoin="round" stroke-linecap="round" />
<path d="M296.2,690.4 L298.4,693.6" fill="none" stroke="#444" stroke-width="1.2" stroke-linejoin="round" stroke-linecap="round" />
<path d="M783.6,444.6 C770,445.6 752,450 738,459 C722,469 711,483 705,500 C699,518 698.6,540 702,556 C705,571 710,582 716,594 C724,610 736,628 747.6,642.6" fill="none" stroke="#727272" stroke-width="4.1" stroke-linecap="round"/>
<path d="M783.6,444.6 C770,445.6 752,450 738,459 C722,469 711,483 705,500 C699,518 698.6,540 702,556 C705,571 710,582 716,594 C724,610 736,628 747.6,642.6" fill="none" stroke="#fff" stroke-width="2.2" stroke-linecap="round"/>
<circle cx="799.4" cy="443" r="1.8" fill="#fff" stroke="#444" stroke-width="1"/>
<path d="M797.4,443.2 L790,444" fill="none" stroke="#555" stroke-width="0.9" stroke-linejoin="round" stroke-linecap="round" />
<path d="M783.8,443 L790.2,442.4 L790.6,445.6 L784.2,446.4 Z" fill="#fff" stroke="#555" stroke-width="0.9" stroke-linejoin="round" stroke-linecap="round" />
<path d="M744.9,642.2 L751.5,649.4 L755.3,645.8 L748.7,638.6 Z" fill="#fff" stroke="#444" stroke-width="1.0" stroke-linejoin="round" stroke-linecap="round" />
<path d="M747.6,645.8 L749.4,648.2 L755.4,643.8 L753.6,641.4 Z" fill="#fff" stroke="#444" stroke-width="1.0" stroke-linejoin="round" stroke-linecap="round" />
<path d="M751.7,649.0 L756.9,655.4 L760.3,652.6 L755.1,646.2 Z" fill="#fff" stroke="#444" stroke-width="1.0" stroke-linejoin="round" stroke-linecap="round" />
<path d="M758.6,654 L763.2,660.6" fill="none" stroke="#555" stroke-width="1.2" stroke-linejoin="round" stroke-linecap="round" />
<path d="M761.6,661.6 L776.6,681.0 L779.4,678.8 L764.4,659.4 Z" fill="#2c2c2c" stroke="#222" stroke-width="1.0" stroke-linejoin="round" stroke-linecap="round" />
<path d="M764.6,662.6 L776.6,678" fill="none" stroke="#ccc" stroke-width="0.8" stroke-linejoin="round" stroke-linecap="round" stroke-dasharray="1 1.4"/>
<path d="M775.4,678.6 L783.5,689.6 L786.3,687.6 L778.2,676.6 Z" fill="#fff" stroke="#444" stroke-width="1.0" stroke-linejoin="round" stroke-linecap="round" />
<path d="M779,680.6 l2.8,-2 m-0.6,5 l2.8,-2" fill="none" stroke="#555" stroke-width="0.7" stroke-linejoin="round" stroke-linecap="round" />
<path d="M784.9,688.6 L786.4,691.4" fill="none" stroke="#555" stroke-width="1.1" stroke-linejoin="round" stroke-linecap="round" />
<circle cx="788" cy="694.2" r="3" fill="#fff" stroke="#333" stroke-width="1.1"/>
<path d="M788.8,698.0 L798.0,708.9 L800.4,706.9 L791.2,696.0 Z" fill="#fff" stroke="#444" stroke-width="1.0" stroke-linejoin="round" stroke-linecap="round" />
<path d="M789.5,701.8 L791.5,704.2 L797.7,699.0 L795.7,696.6 Z" fill="#fff" stroke="#333" stroke-width="1.0" stroke-linejoin="round" stroke-linecap="round" />
<path d="M821.4,493.4 C819.0,493.8 811.5,495.0 807.0,496.0 C802.5,497.0 799.7,497.1 794.6,499.2 C789.5,501.2 781.2,504.8 776.4,508.3 C771.5,511.8 768.2,515.7 765.5,520.1 C762.8,524.5 760.5,530.2 760.0,534.7 C759.5,539.2 761.0,543.5 762.8,547.4 C764.6,551.3 767.2,555.0 771.0,558.4 C774.8,561.8 780.0,565.2 785.5,567.5 C791.0,569.8 797.7,571.1 803.8,572.0 C809.9,572.9 816.9,573.1 822.0,573.0 C827.1,572.9 830.8,571.9 834.7,571.3 C838.6,570.7 841.3,570.0 845.2,569.4 C849.1,568.8 853.8,567.9 858.0,567.4 C862.2,566.9 866.2,566.4 870.4,566.2 C874.6,566.0 878.8,566.2 883.0,566.4 C887.2,566.6 890.9,567.0 895.6,567.4 C900.3,567.8 908.4,568.7 911.0,569.0 " fill="none" stroke="#727272" stroke-width="4.1" stroke-linecap="round"/>
<path d="M821.4,493.4 C819.0,493.8 811.5,495.0 807.0,496.0 C802.5,497.0 799.7,497.1 794.6,499.2 C789.5,501.2 781.2,504.8 776.4,508.3 C771.5,511.8 768.2,515.7 765.5,520.1 C762.8,524.5 760.5,530.2 760.0,534.7 C759.5,539.2 761.0,543.5 762.8,547.4 C764.6,551.3 767.2,555.0 771.0,558.4 C774.8,561.8 780.0,565.2 785.5,567.5 C791.0,569.8 797.7,571.1 803.8,572.0 C809.9,572.9 816.9,573.1 822.0,573.0 C827.1,572.9 830.8,571.9 834.7,571.3 C838.6,570.7 841.3,570.0 845.2,569.4 C849.1,568.8 853.8,567.9 858.0,567.4 C862.2,566.9 866.2,566.4 870.4,566.2 C874.6,566.0 878.8,566.2 883.0,566.4 C887.2,566.6 890.9,567.0 895.6,567.4 C900.3,567.8 908.4,568.7 911.0,569.0 " fill="none" stroke="#fff" stroke-width="2.2" stroke-linecap="round"/>
<path d="M821.4,490.6 L836.4,487.2 L837.6,493.4 L822.4,496.4 Z" fill="#fff" stroke="#444" stroke-width="1.0" stroke-linejoin="round" stroke-linecap="round" />
<path d="M825,489.8 l1,6 M832,488.2 l1,6" fill="none" stroke="#666" stroke-width="0.7" stroke-linejoin="round" stroke-linecap="round" />
<ellipse cx="840" cy="490.6" rx="2.6" ry="3.4" fill="#222" stroke="#222" stroke-width="1" transform="rotate(-15 840 490.6)"/>
<ellipse cx="840.2" cy="490.6" rx="1" ry="1.6" fill="#fff" transform="rotate(-15 840.2 490.6)"/>
<path d="M842,488.6 C846.2,487.8 847.6,484.6 847.4,480 L851.4,480 C852,487 848.4,492.6 842.8,494 Z" fill="#fff" stroke="#444" stroke-width="1.1" stroke-linejoin="round" stroke-linecap="round" />
<path d="M846.6,471.2 h4.6 v9 h-4.6 Z" fill="#fff" stroke="#333" stroke-width="1.0" stroke-linejoin="round" stroke-linecap="round" />
<path d="M846.4,472.2 h4.8" fill="none" stroke="#333" stroke-width="1.6" stroke-linejoin="round" stroke-linecap="round" />
<path d="M840.6,478.4 L852.4,477.6" fill="none" stroke="#1a1a1a" stroke-width="2.4" stroke-linejoin="round" stroke-linecap="round" />
<path d="M840.6,477 l0.4,3" fill="none" stroke="#1a1a1a" stroke-width="1.4" stroke-linejoin="round" stroke-linecap="round" />
<path d="M911,566.6 L928.6,569 L928.2,573.6 L910.6,571.4 Z" fill="#fff" stroke="#555" stroke-width="1.0" stroke-linejoin="round" stroke-linecap="round" />
<path d="M913,569 L926.4,570.8" fill="none" stroke="#777" stroke-width="0.7" stroke-linejoin="round" stroke-linecap="round" />
<path d="M928.4,571.4 L943.8,572.8" fill="none" stroke="#555" stroke-width="0.9" stroke-linejoin="round" stroke-linecap="round" />
<circle cx="944.6" cy="572.8" r="1.1" fill="#444"/>
<path d="M471.2,428.6 L540,415.8 C546,414.8 552,417 555.6,421.6 L608.7,481.2 L601,485.6 L548.6,430.6 C546.6,428.6 544.6,427.4 542,427.6 L472.4,439.2 Z" fill="#fff" stroke="#4a4a4a" stroke-width="1.1" stroke-linejoin="round" stroke-linecap="round" />
<ellipse cx="471.6" cy="433.9" rx="3.6" ry="5.4" fill="#fff" stroke="#444" stroke-width="1.2" transform="rotate(-8 471.6 433.9)"/>
<ellipse cx="471.8" cy="433.9" rx="2" ry="3.6" fill="#fff" stroke="#777" stroke-width="0.7" transform="rotate(-8 471.8 433.9)"/>
<path d="M540.4,415.8 C543,419 544,423.4 542.6,427.6" fill="none" stroke="#666" stroke-width="0.9" stroke-linejoin="round" stroke-linecap="round" />
<path d="M555.4,421.4 C552.6,423.6 550,427 548.8,430.6" fill="none" stroke="#666" stroke-width="0.9" stroke-linejoin="round" stroke-linecap="round" />
<path d="M629.6,465 L672.6,413.4 C677,407.6 683,405.2 690,405.6 L773.6,407.8 C775.6,411 775.6,415.6 774,419 L690.4,416.6 C686,416.6 683.4,418 680.6,421.4 L622.4,480.4 Z" fill="#fff" stroke="#4a4a4a" stroke-width="1.1" stroke-linejoin="round" stroke-linecap="round" />
<path d="M690,405.6 C688.8,409.2 689,413 690.4,416.6" fill="none" stroke="#666" stroke-width="0.9" stroke-linejoin="round" stroke-linecap="round" />
<path d="M672.6,413.4 C675.6,415.2 678.6,418.2 680.6,421.4" fill="none" stroke="#666" stroke-width="0.9" stroke-linejoin="round" stroke-linecap="round" />
<path d="M561.4,449.6 C561,446 565,443.2 570.4,442.4 C573.6,442.2 574.4,444.6 573.4,447 L566.6,454.4 C564,455.6 561.6,453.4 561.4,449.6 Z" fill="#fff" stroke="#333" stroke-width="1.1" stroke-linejoin="round" stroke-linecap="round" />
<ellipse cx="565.6" cy="450.6" rx="2" ry="1.6" fill="#fff" stroke="#333" stroke-width="0.9"/>
<path d="M655.4,440 C655.2,437 657.6,435.6 660.4,436.4 L666.6,442.6 C668,445.4 666.8,448.6 663.6,448.8 C659.6,448.6 655.8,444.6 655.4,440 Z" fill="#fff" stroke="#333" stroke-width="1.1" stroke-linejoin="round" stroke-linecap="round" />
<ellipse cx="662.6" cy="444.6" rx="2" ry="1.6" fill="#fff" stroke="#333" stroke-width="0.9"/>
<path d="M596,465.4 L602,463.6 L629.6,463.4 L630.4,468.4 L623,469.4 L612,468 L603,469.8 L598,469.6 Z" fill="#cdcdcd" stroke="#666" stroke-width="0.8" stroke-linejoin="round" stroke-linecap="round" />
<path d="M598,469.6 L597.6,470.4 M630.4,468.4 L629.7,469.6" fill="none" stroke="#444" stroke-width="0.9" stroke-linejoin="round" stroke-linecap="round" />
<circle cx="613.8" cy="474.4" r="1.4" fill="#fff" stroke="#333" stroke-width="0.8"/>
<path d="M608.6,479 l3,2 l3.6,-2.2" fill="none" stroke="#444" stroke-width="0.8" stroke-linejoin="round" stroke-linecap="round" />
<path d="M603.4,484.6 C601,486 600.6,491 602.6,493.6 L607,495 L628,494 C633,493 634.6,487.6 632.6,483.6 L628.6,481.6 L607,482.4 Z" fill="#fff" stroke="#2a2a2a" stroke-width="1.2" stroke-linejoin="round" stroke-linecap="round" />
<path d="M604,491.6 L630,490 L631.6,493 L606,495 Z" fill="#c4c4c4" stroke="#666" stroke-width="0.6" stroke-linejoin="round" stroke-linecap="round" />
<circle cx="616.6" cy="485.8" r="1.3" fill="#fff" stroke="#333" stroke-width="0.8"/>
<circle cx="607.6" cy="487.2" r="1" fill="#fff" stroke="#333" stroke-width="0.7"/>
<circle cx="627.2" cy="485.4" r="1" fill="#fff" stroke="#333" stroke-width="0.7"/>
<path d="M600.6,494 L600.6,505 L607,506.6 L607,496 M608,496.4 L610,503.6 L620.6,502.8 L622.6,495.6" fill="none" stroke="#333" stroke-width="1.1" stroke-linejoin="round" stroke-linecap="round" />
<path d="M601,494 L606.6,495.6 L606.6,506 L601,504.6 Z" fill="#e2e2e2" stroke="#666" stroke-width="0.6" stroke-linejoin="round" stroke-linecap="round" />
<path d="M590.4,503 L596.4,499.6 L600.6,500 M622.6,499 L630.6,498.6 L633.6,502.6 L633.2,506.4 L598,509.4 L591,507.4 Z" fill="none" stroke="#333" stroke-width="1.1" stroke-linejoin="round" stroke-linecap="round" />
<path d="M590.4,503 L591,507.4 L598,509.4 L633.2,506.4 L633.6,502.6 L626,504.4 L598,506 Z" fill="#f4f4f4" stroke="#444" stroke-width="0.9" stroke-linejoin="round" stroke-linecap="round" />
<circle cx="596" cy="503.2" r="1" fill="#fff" stroke="#333" stroke-width="0.7"/>
<circle cx="628" cy="501.2" r="1" fill="#fff" stroke="#333" stroke-width="0.7"/>
<circle cx="603.6" cy="507" r="0.9" fill="#fff" stroke="#333" stroke-width="0.6"/>
<circle cx="624" cy="505.6" r="0.9" fill="#fff" stroke="#333" stroke-width="0.6"/>
<path d="M592.6999999999999,533.6 h3.4 v9.4 h-3.4 Z" fill="#fff" stroke="#444" stroke-width="0.9" stroke-linejoin="round" stroke-linecap="round" />
<path d="M591.1999999999999,530.2 h6.4 v3.6 h-6.4 Z" fill="#fff" stroke="#333" stroke-width="1.0" stroke-linejoin="round" stroke-linecap="round" />
<path d="M591.1999999999999,531.4000000000001 h6.4" fill="none" stroke="#444" stroke-width="1.4" stroke-linejoin="round" stroke-linecap="round" />
<path d="M597.5,537.4 h3.4 v9.4 h-3.4 Z" fill="#fff" stroke="#444" stroke-width="0.9" stroke-linejoin="round" stroke-linecap="round" />
<path d="M596.0,534 h6.4 v3.6 h-6.4 Z" fill="#fff" stroke="#333" stroke-width="1.0" stroke-linejoin="round" stroke-linecap="round" />
<path d="M596.0,535.2 h6.4" fill="none" stroke="#444" stroke-width="1.4" stroke-linejoin="round" stroke-linecap="round" />
<path d="M622.6999999999999,531.8 h3.4 v9.4 h-3.4 Z" fill="#fff" stroke="#444" stroke-width="0.9" stroke-linejoin="round" stroke-linecap="round" />
<path d="M621.1999999999999,528.4 h6.4 v3.6 h-6.4 Z" fill="#fff" stroke="#333" stroke-width="1.0" stroke-linejoin="round" stroke-linecap="round" />
<path d="M621.1999999999999,529.6 h6.4" fill="none" stroke="#444" stroke-width="1.4" stroke-linejoin="round" stroke-linecap="round" />
<path d="M627.0999999999999,535.6 h3.4 v9.4 h-3.4 Z" fill="#fff" stroke="#444" stroke-width="0.9" stroke-linejoin="round" stroke-linecap="round" />
<path d="M625.5999999999999,532.2 h6.4 v3.6 h-6.4 Z" fill="#fff" stroke="#333" stroke-width="1.0" stroke-linejoin="round" stroke-linecap="round" />
<path d="M625.5999999999999,533.4000000000001 h6.4" fill="none" stroke="#444" stroke-width="1.4" stroke-linejoin="round" stroke-linecap="round" />
<path d="M249.0,338.0 C248.5,338.3 247.3,334.8 247.3,332.0 C247.3,329.2 247.6,324.3 248.9,321.2 C250.2,318.1 252.2,315.6 255.0,313.5 C257.8,311.4 261.4,310.0 265.8,308.9 C270.2,307.8 276.6,306.9 281.2,306.6 C285.8,306.3 290.1,306.2 293.5,307.0 C296.9,307.8 299.4,309.7 301.3,311.2 C303.2,312.7 305.8,315.8 305.0,316.0 C304.2,316.2 300.6,313.6 296.6,312.7 C292.6,311.8 286.3,310.5 281.2,310.4 C276.1,310.3 270.3,310.7 265.8,312.0 C261.3,313.3 256.9,315.0 254.3,318.1 C251.7,321.2 251.3,327.1 250.4,330.4 C249.5,333.7 249.5,337.7 249.0,338.0 Z" fill="#b8b8b8" stroke="none"/>
<path d="M249.0,338.0 C248.7,337.0 247.3,334.8 247.3,332.0 C247.3,329.2 247.6,324.3 248.9,321.2 C250.2,318.1 252.2,315.6 255.0,313.5 C257.8,311.4 261.4,310.0 265.8,308.9 C270.2,307.8 276.6,306.9 281.2,306.6 C285.8,306.3 290.1,306.2 293.5,307.0 C296.9,307.8 299.4,309.7 301.3,311.2 C303.2,312.7 304.4,315.2 305.0,316.0 " fill="none" stroke="#333" stroke-width="1.5" stroke-linejoin="round" stroke-linecap="round" />
<path d="M250.4,330.4 C250.8,326.8 251.7,321.2 254.3,318.1 C256.9,315.0 261.3,313.3 265.8,312.0 C270.3,310.7 276.1,310.3 281.2,310.4 C286.3,310.5 292.2,311.0 296.6,312.7 C301.0,314.4 304.9,317.4 307.4,320.4 C309.8,323.3 311.0,326.9 311.3,330.4 C311.6,333.9 310.7,338.1 309.0,341.2 C307.3,344.3 304.7,347.1 301.3,348.9 C297.9,350.7 293.5,351.6 288.9,352.0 C284.3,352.4 278.4,352.0 273.5,351.2 C268.6,350.4 263.3,349.3 259.7,347.4 C256.1,345.5 253.6,342.5 252.0,339.7 C250.4,336.9 250.0,334.0 250.4,330.4 Z" fill="#fff" stroke="#454545" stroke-width="2.5" stroke-linejoin="round" stroke-linecap="round" />
<path d="M250.4,330.4 C250.8,326.8 251.7,321.2 254.3,318.1 C256.9,315.0 261.3,313.3 265.8,312.0 C270.3,310.7 276.1,310.3 281.2,310.4 C286.3,310.5 292.2,311.0 296.6,312.7 C301.0,314.4 304.9,317.4 307.4,320.4 C309.8,323.3 311.0,326.9 311.3,330.4 C311.6,333.9 310.7,338.1 309.0,341.2 C307.3,344.3 304.7,347.1 301.3,348.9 C297.9,350.7 293.5,351.6 288.9,352.0 C284.3,352.4 278.4,352.0 273.5,351.2 C268.6,350.4 263.3,349.3 259.7,347.4 C256.1,345.5 253.6,342.5 252.0,339.7 C250.4,336.9 250.0,334.0 250.4,330.4 Z" fill="none" stroke="#e6e6e6" stroke-width="0.8" stroke-linejoin="round" stroke-linecap="round" stroke-dasharray="1.6 1.4"/>
<path d="M258,313 l2.6,3.4 M266,309.6 l1.6,3.6 M276,307.6 l0.8,3.6 M286,307.2 l-0.4,3.6 M295,308.6 l-1.4,3.4" fill="none" stroke="#555" stroke-width="0.7" stroke-linejoin="round" stroke-linecap="round" />
<path d="M308.6,337.6 L313.4,341.2 L306,350.6 L301.6,348.4 Z" fill="#fff" stroke="#444" stroke-width="1.0" stroke-linejoin="round" stroke-linecap="round" />
<path d="M313.4,341.2 L319.2,345.6 L311.6,355.2 L306,350.6 Z" fill="#5a5a5a" stroke="#2a2a2a" stroke-width="1.0" stroke-linejoin="round" stroke-linecap="round" />
<path d="M315,342.4 l-7.4,9.4 M317,344 l-7.4,9.6" fill="none" stroke="#1a1a1a" stroke-width="0.8" stroke-linejoin="round" stroke-linecap="round" />
<path d="M319.2,345.6 L330.6,353.2 L327.4,359.8 L311.6,355.2 Z" fill="#fff" stroke="#444" stroke-width="1.0" stroke-linejoin="round" stroke-linecap="round" />
<path d="M330.6,353.2 L337.6,358.8 C340.6,361 341.6,363 341.2,366 L340.6,373.6 L335.4,373.6 L335.6,366.4 C335.8,364.6 335.2,363.8 333.8,363 L327.4,359.8 Z" fill="#fff" stroke="#444" stroke-width="1.0" stroke-linejoin="round" stroke-linecap="round" />
<path d="M335.6,366.4 l5.4,-0.4 M335.4,370 l5.2,0" fill="none" stroke="#666" stroke-width="0.7" stroke-linejoin="round" stroke-linecap="round" />
<path d="M332.2,373.8 h8.4 v6.6 h-8.4 Z" fill="#fff" stroke="#333" stroke-width="1.0" stroke-linejoin="round" stroke-linecap="round" />
<path d="M332.2,376.4 h8.4 M332.2,378.6 h8.4" fill="none" stroke="#555" stroke-width="0.7" stroke-linejoin="round" stroke-linecap="round" />
<path d="M333.8,380.4 h4.6 v10 c0,1.8 -4.6,1.8 -4.6,0 Z" fill="#fff" stroke="#444" stroke-width="1.0" stroke-linejoin="round" stroke-linecap="round" />
<path d="M938.2,296.2 C937.3,295.2 935.5,292.2 935.1,290.0 C934.7,287.8 935.0,285.9 935.8,283.1 C936.6,280.3 937.9,276.1 939.7,273.1 C941.5,270.2 943.4,267.4 946.6,265.4 C949.8,263.3 954.4,261.9 959.0,260.8 C963.6,259.7 969.8,259.2 974.4,258.9 C979.0,258.6 983.1,258.6 986.7,259.2 C990.3,259.8 996.2,262.1 996.0,262.4 C995.8,262.7 989.8,260.8 985.2,260.8 C980.6,260.8 973.6,261.3 968.2,262.3 C962.8,263.3 956.9,264.7 952.8,267.0 C948.7,269.3 945.7,272.9 943.5,276.2 C941.3,279.5 940.2,283.7 939.7,287.0 C939.2,290.3 940.8,294.7 940.5,296.2 C940.2,297.7 939.1,297.2 938.2,296.2 Z" fill="#e8e8e8" stroke="none"/>
<path d="M938.2,296.2 C937.7,295.2 935.5,292.2 935.1,290.0 C934.7,287.8 935.0,285.9 935.8,283.1 C936.6,280.3 937.9,276.1 939.7,273.1 C941.5,270.2 943.4,267.4 946.6,265.4 C949.8,263.3 954.4,261.9 959.0,260.8 C963.6,259.7 969.8,259.2 974.4,258.9 C979.0,258.6 983.1,258.6 986.7,259.2 C990.3,259.8 994.5,261.9 996.0,262.4 " fill="none" stroke="#333" stroke-width="1.5" stroke-linejoin="round" stroke-linecap="round" />
<path d="M940.5,296.2 C940.0,293.5 939.2,290.3 939.7,287.0 C940.2,283.7 941.3,279.5 943.5,276.2 C945.7,272.9 948.7,269.3 952.8,267.0 C956.9,264.7 962.8,263.3 968.2,262.3 C973.6,261.3 980.6,260.7 985.2,260.8 C989.8,260.9 993.0,261.6 996.0,263.1 C999.0,264.6 1001.5,267.3 1002.9,270.0 C1004.3,272.7 1004.8,276.2 1004.4,279.3 C1004.0,282.4 1002.8,285.6 1000.6,288.5 C998.4,291.4 995.2,294.6 991.3,297.0 C987.4,299.4 982.3,301.4 977.4,303.2 C972.5,305.0 966.6,307.0 962.0,307.8 C957.4,308.6 952.9,308.6 949.7,307.8 C946.5,307.0 944.3,305.1 942.8,303.2 C941.3,301.3 941.0,298.9 940.5,296.2 Z" fill="#fff" stroke="#454545" stroke-width="2.5" stroke-linejoin="round" stroke-linecap="round" />
<path d="M940.5,296.2 C940.0,293.5 939.2,290.3 939.7,287.0 C940.2,283.7 941.3,279.5 943.5,276.2 C945.7,272.9 948.7,269.3 952.8,267.0 C956.9,264.7 962.8,263.3 968.2,262.3 C973.6,261.3 980.6,260.7 985.2,260.8 C989.8,260.9 993.0,261.6 996.0,263.1 C999.0,264.6 1001.5,267.3 1002.9,270.0 C1004.3,272.7 1004.8,276.2 1004.4,279.3 C1004.0,282.4 1002.8,285.6 1000.6,288.5 C998.4,291.4 995.2,294.6 991.3,297.0 C987.4,299.4 982.3,301.4 977.4,303.2 C972.5,305.0 966.6,307.0 962.0,307.8 C957.4,308.6 952.9,308.6 949.7,307.8 C946.5,307.0 944.3,305.1 942.8,303.2 C941.3,301.3 941.0,298.9 940.5,296.2 Z" fill="none" stroke="#e6e6e6" stroke-width="0.8" stroke-linejoin="round" stroke-linecap="round" stroke-dasharray="1.6 1.4"/>
<path d="M944.3,270 l3.9,4.6 M953.6,263.1 l2.3,4.6 M960.5,261.5 l0.8,3.9 M939,279 l3.6,2" fill="none" stroke="#555" stroke-width="0.7" stroke-linejoin="round" stroke-linecap="round" />
<path d="M931.2,293.9 L939.7,303.9 L935.8,307 L927.6,296.6 Z" fill="#fff" stroke="#444" stroke-width="1.0" stroke-linejoin="round" stroke-linecap="round" />
<path d="M927.6,296.6 L935.8,307 L929.4,311 L922.4,301 Z" fill="#555" stroke="#2a2a2a" stroke-width="1.0" stroke-linejoin="round" stroke-linecap="round" />
<path d="M925.8,297.8 l7.4,10.6 M924,299.2 l7.2,10.6" fill="none" stroke="#1a1a1a" stroke-width="0.8" stroke-linejoin="round" stroke-linecap="round" />
<path d="M922.4,301 L929.4,311 L914.3,319.3 L909.7,313.2 Z" fill="#fff" stroke="#444" stroke-width="1.0" stroke-linejoin="round" stroke-linecap="round" />
<path d="M909.7,313.2 L914.3,319.3 L904.6,324.4 C903,325.4 902.6,326.4 902.6,328 L902.6,339.4 L896.6,339.4 L896.6,327 C896.6,324.4 898,322.4 900.4,320.6 Z" fill="#fff" stroke="#444" stroke-width="1.0" stroke-linejoin="round" stroke-linecap="round" />
<path d="M896.8,330.6 l5.8,0 M896.8,334.6 l5.8,0" fill="none" stroke="#666" stroke-width="0.7" stroke-linejoin="round" stroke-linecap="round" />
<path d="M895,339.4 h8.6 v5.6 h-8.6 Z" fill="#fff" stroke="#333" stroke-width="1.0" stroke-linejoin="round" stroke-linecap="round" />
<path d="M895,341.4 h8.6 M895,343.2 h8.6" fill="none" stroke="#555" stroke-width="0.7" stroke-linejoin="round" stroke-linecap="round" />
<path d="M897.3,345 h5 v7.4 c0,1.6 -5,1.6 -5,0 Z" fill="#fff" stroke="#444" stroke-width="1.0" stroke-linejoin="round" stroke-linecap="round" />
<path d="M359.4,361 L394,359.6 C395.4,361 395.4,365 394,366.4 L360,367.4 C358.4,366 358.4,362.4 359.4,361 Z" fill="#fff" stroke="#333" stroke-width="1.2" stroke-linejoin="round" stroke-linecap="round" />
<path d="M360,364.2 L394.6,363" fill="none" stroke="#333" stroke-width="1.8" stroke-linejoin="round" stroke-linecap="round" />
<path d="M364,361 l0,6 M388,360 l0,6.4" fill="none" stroke="#555" stroke-width="0.8" stroke-linejoin="round" stroke-linecap="round" />
<path d="M390.2,374.2 h3.4 v5.2 h-3.4 Z" fill="#fff" stroke="#444" stroke-width="1.0" stroke-linejoin="round" stroke-linecap="round" />
<path d="M416,354.6 L417,357.6 L424,357.8 C426.6,358.4 427.6,360.2 427.4,362.6 L426.8,366.4 L423.4,366.2 L423.8,362.6 L409.4,366.2 L406,369.4 L404,367.8 L405.2,364.4 L420,360.4 L416.4,358.8 L415.6,355.4 Z" fill="#fff" stroke="#2a2a2a" stroke-width="1.4" stroke-linejoin="round" stroke-linecap="round" />
<path d="M405.4,366.6 L423.6,362" fill="none" stroke="#555" stroke-width="0.8" stroke-linejoin="round" stroke-linecap="round" />
<path d="M417,357.6 L422.6,360.4" fill="none" stroke="#333" stroke-width="1.2" stroke-linejoin="round" stroke-linecap="round" />
<path d="M421.4,339.2 h3 v9.6 h-3 Z" fill="#fff" stroke="#555" stroke-width="0.9" stroke-linejoin="round" stroke-linecap="round" />
<path d="M421,339 h3.8 v2.4 h-3.8 Z" fill="#666" stroke="#444" stroke-width="0.6" stroke-linejoin="round" stroke-linecap="round" />
<path d="M420.4,377.4 l4,-0.6" fill="none" stroke="#222" stroke-width="1.9" stroke-linejoin="round" stroke-linecap="round" />
<path d="M420.6,391 l3.8,-0.8" fill="none" stroke="#222" stroke-width="1.9" stroke-linejoin="round" stroke-linecap="round" />
<circle cx="421" cy="391" r="1" fill="#222"/>
<path d="M389.6,387.8 l3.8,-0.8" fill="none" stroke="#222" stroke-width="1.8" stroke-linejoin="round" stroke-linecap="round" />
<g transform="translate(434,420) scale(1,1)">
<path d="M0,2.6 L6,0 L10,0.2 L10,5.6 L6,5.8 Z" fill="#fff" stroke="#333" stroke-width="1.0" stroke-linejoin="round" stroke-linecap="round" />
<path d="M10,0.8 L18,1.2 L18,4.8 L10,5 Z" fill="#888" stroke="#333" stroke-width="0.9" stroke-linejoin="round" stroke-linecap="round" />
<path d="M18,2 l2.4,0.2 l0,2 l-2.4,0" fill="none" stroke="#333" stroke-width="0.9" stroke-linejoin="round" stroke-linecap="round" />
</g>
<g transform="translate(815,399.2) scale(-1,1)">
<path d="M0,2.6 L6,0 L10,0.2 L10,5.6 L6,5.8 Z" fill="#fff" stroke="#333" stroke-width="1.0" stroke-linejoin="round" stroke-linecap="round" />
<path d="M10,0.8 L18,1.2 L18,4.8 L10,5 Z" fill="#888" stroke="#333" stroke-width="0.9" stroke-linejoin="round" stroke-linecap="round" />
<path d="M18,2 l2.4,0.2 l0,2 l-2.4,0" fill="none" stroke="#333" stroke-width="0.9" stroke-linejoin="round" stroke-linecap="round" />
</g>
<g transform="translate(331.3,436.2) scale(1,1)">
<path d="M0,0.2 L0,-1.2 C0.4,-2 1.6,-2.2 3,-2.2 L6.4,-2 C7.6,-1.8 8,-1 8.4,0.8 Q36.3,2.4 72.7,-4.8 L72.7,1.8 Q40.0,10.2 0,6.4 Z" fill="#fff" stroke="#333" stroke-width="1.15" stroke-linejoin="round" stroke-linecap="round" />
<path d="M3,2.4 Q36.3,4.6 72.7,-3.0" fill="none" stroke="#777" stroke-width="0.8" stroke-linejoin="round" stroke-linecap="round" />
<path d="M0.4,0.4 L8,0.9" fill="none" stroke="#555" stroke-width="0.8" stroke-linejoin="round" stroke-linecap="round" />
<path d="M54.2,-0.0 l0,7.2 M57.4,-0.5 l0,7.0" fill="none" stroke="#555" stroke-width="0.7" stroke-linejoin="round" stroke-linecap="round" />
</g>
<path d="M360.6,446.6 L404.5,439.4 L404.5,455.4 L360.6,462.2 Z" fill="#fff" stroke="#444" stroke-width="1.0" stroke-linejoin="round" stroke-linecap="round" />
<ellipse cx="360.6" cy="454.4" rx="5" ry="9.2" fill="#fff" stroke="#3a3a3a" stroke-width="1.4"/>
<ellipse cx="360.0" cy="454.4" rx="2.8" ry="7.4" fill="#fff" stroke="#777" stroke-width="0.7"/>
<path d="M358.1,447.8 L354.4,448.7 C350.7,449.2 349.4,451.3 349.4,454.4 C349.4,457.5 350.7,459.6 354.4,460.1 L358.1,461.0 Z" fill="#fff" stroke="#3a3a3a" stroke-width="1.1" stroke-linejoin="round" stroke-linecap="round" />
<ellipse cx="352.0" cy="454.4" rx="1.6" ry="4.0" fill="none" stroke="#777" stroke-width="0.8"/>
<path d="M398,440.6 C402,437 405.4,431.4 408.4,428.6 L409,461 C405,460 402.6,458.6 400,456 Z" fill="#fff" stroke="#444" stroke-width="1.0" stroke-linejoin="round" stroke-linecap="round" />
<path d="M434,448.2 L447,447.4 C448.6,448.6 448.6,452 447,453 L434,453.8" fill="#fff" stroke="#444" stroke-width="1.0" stroke-linejoin="round" stroke-linecap="round" />
<g transform="translate(419.8,445.8) scale(0.98,0.98)">
<path d="M-6,-22 L-5,-23.4 L4,-23.4 L5,-22 C6.4,-21.8 7.4,-21.2 8,-20.5 C10.6,-19.4 12.2,-17.6 13,-15.5 C14,-12.4 14.5,-9 14.5,-5.5 L14,12.5 C13.8,16 13.4,18.6 12.5,21 C8,22.6 2,22.8 -3,22 C-6,20.4 -8.4,17.8 -10,14.5 C-12,11.4 -13.6,8 -14.5,4.5 C-15.2,1 -15.3,-2.6 -15,-5.5 C-14.6,-8.4 -13.8,-11 -12.5,-13.5 C-11.8,-15 -11,-16.4 -10,-17.5 C-8.8,-19.6 -7.4,-21.2 -6,-22 Z" fill="#fff" stroke="#333" stroke-width="1.15" stroke-linejoin="round" stroke-linecap="round" />
<path d="M-6,-18.5 C-7.6,-14.6 -8.4,-10 -8.5,-5.5 C-8.6,-0.4 -8,4.6 -7,9.5 C-6.2,13.6 -4.8,17.2 -3,20.5" fill="none" stroke="#444" stroke-width="1.5" stroke-linejoin="round" stroke-linecap="round" />
<path d="M-9,-16.4 C-10.8,-12.6 -11.6,-8.6 -11.8,-4.6 C-12,0.6 -11,6 -9.4,10.6 C-8.6,13.2 -7.4,15.8 -6,18" fill="none" stroke="#666" stroke-width="0.9" stroke-linejoin="round" stroke-linecap="round" />
<path d="M-3.6,-19.6 C-5,-14.6 -5.6,-10 -5.6,-5 C-5.6,0 -5,5 -4,9.6 C-3.4,13.4 -2.2,17.4 -0.6,21" fill="none" stroke="#777" stroke-width="0.8" stroke-linejoin="round" stroke-linecap="round" />
<path d="M-4.6,-22 L3.6,-22" fill="none" stroke="#666" stroke-width="0.8" stroke-linejoin="round" stroke-linecap="round" />
<path d="M-1.2,-17 L6.2,-17.4 L7.6,-11 L8.2,-6.4 L-1.8,-6 L-1.4,-11 Z" fill="#fff" stroke="#2a2a2a" stroke-width="1.2" stroke-linejoin="round" stroke-linecap="round" />
<path d="M0.4,-16 L0.8,-10.4 L-0.4,-7.4 M5.4,-16 L6,-10.6 L7,-7.6 M0.8,-10.4 L6,-10.6" fill="none" stroke="#555" stroke-width="0.8" stroke-linejoin="round" stroke-linecap="round" />
<path d="M-1.6,-18.6 L7,-19" fill="none" stroke="#3a3a3a" stroke-width="1.4" stroke-linejoin="round" stroke-linecap="round" />
<path d="M1.4,-4.4 l1.8,-1.4 l1.6,1.6 l-1.6,1.8 Z" fill="#222" stroke="#222" stroke-width="0.6" stroke-linejoin="round" stroke-linecap="round" />
<path d="M-1,-0.6 l3.4,-1.6 M5.4,-2.4 l3.4,0.6" fill="none" stroke="#333" stroke-width="0.9" stroke-linejoin="round" stroke-linecap="round" />
<path d="M-7,1.5 L13.4,1 L13.2,10 L-6.6,10.6 Z" fill="#fff" stroke="#222" stroke-width="1.1" stroke-linejoin="round" stroke-linecap="round" />
<path d="M-2,1.4 L-2,10.4 M0,1.4 L0,10.4 M3.2,1.3 L3.2,10.3 M5.2,1.3 L5.2,10.3 M9.4,1.2 L9.4,10.2" fill="none" stroke="#333" stroke-width="1.0" stroke-linejoin="round" stroke-linecap="round" />
<path d="M6,3.4 L8.6,3.4 L8.6,9 L6,9 Z" fill="#999" stroke="#555" stroke-width="0.5" stroke-linejoin="round" stroke-linecap="round" />
<path d="M-6.4,12.4 L13.6,11.8" fill="none" stroke="#444" stroke-width="1.5" stroke-linejoin="round" stroke-linecap="round" />
<path d="M-3.4,13.8 L12.6,13.4 L12,20.8 L-1.6,21.6 Z" fill="#fff" stroke="#333" stroke-width="0.9" stroke-linejoin="round" stroke-linecap="round" />
<path d="M0.6,14.8 L11.6,14.4 L11.2,19.8 L1.2,20.6 C-0.4,19 -0.6,16.4 0.6,14.8 Z" fill="#666" stroke="#333" stroke-width="0.8" stroke-linejoin="round" stroke-linecap="round" />
<path d="M5,16 L9.6,15.8 L9.6,18.8 L5,19 Z" fill="#ddd" stroke="#222" stroke-width="0.5" stroke-linejoin="round" stroke-linecap="round" />
<path d="M-3,22 C2,22.9 8,22.8 12.4,21.2" fill="none" stroke="#444" stroke-width="1.3" stroke-linejoin="round" stroke-linecap="round" />
<path d="M14.6,-9 h3.2 v3.4 h-3.2" fill="#fff" stroke="#333" stroke-width="1.0" stroke-linejoin="round" stroke-linecap="round" />
<path d="M14.2,6.4 h2.6 v3.2 h-2.6" fill="#fff" stroke="#333" stroke-width="1.0" stroke-linejoin="round" stroke-linecap="round" />
</g>
<g transform="translate(911.4,397.6) scale(-1,1)">
<path d="M0,0.2 L0,-1.2 C0.4,-2 1.6,-2.2 3,-2.2 L6.4,-2 C7.6,-1.8 8,-1 8.4,0.8 Q28.2,3.3 56.4,3.8 L56.4,12.4 Q31.0,13.1 0,6.6 Z" fill="#fff" stroke="#333" stroke-width="1.15" stroke-linejoin="round" stroke-linecap="round" />
<path d="M3,2.4 Q28.2,5.5 56.4,5.6" fill="none" stroke="#777" stroke-width="0.8" stroke-linejoin="round" stroke-linecap="round" />
<path d="M0.4,0.4 L8,0.9" fill="none" stroke="#555" stroke-width="0.8" stroke-linejoin="round" stroke-linecap="round" />
<path d="M42.0,3.9 l0,9.2 M44.6,4.0 l0,9.0" fill="none" stroke="#555" stroke-width="0.7" stroke-linejoin="round" stroke-linecap="round" />
</g>
<path d="M911.2,408.0 L857,407 L857,424.2 L911.2,424.4 Z" fill="#fff" stroke="#444" stroke-width="1.0" stroke-linejoin="round" stroke-linecap="round" />
<ellipse cx="911.2" cy="416.2" rx="2.2" ry="9.6" fill="#fff" stroke="#3a3a3a" stroke-width="1.4"/>
<ellipse cx="911.8000000000001" cy="416.2" rx="1.2" ry="7.8" fill="#fff" stroke="#777" stroke-width="0.7"/>
<path d="M912.3,409.3 L917.5,410.2 C921.2,410.8 922.6,412.9 922.6,416.2 C922.6,419.5 921.2,421.6 917.5,422.2 L912.3,423.1 Z" fill="#fff" stroke="#3a3a3a" stroke-width="1.1" stroke-linejoin="round" stroke-linecap="round" />
<ellipse cx="920.0" cy="416.2" rx="1.6" ry="4.2" fill="none" stroke="#777" stroke-width="0.8"/>
<g transform="translate(842.4,418) scale(0.98)">
<path d="M6.6,-17.4 C10,-17.4 13,-15 14.4,-11.4 C15.8,-6 15.8,0 14.8,4.2 C14.2,8 13.4,10 12.5,11.5 C10.6,13.8 8.6,15 6.1,15.2 Z" fill="#fff" stroke="#333" stroke-width="1.2" stroke-linejoin="round" stroke-linecap="round" />
<ellipse cx="11.2" cy="-1.8" rx="2.6" ry="11.6" fill="#fff" stroke="#555" stroke-width="0.9"/>
<path d="M8.4,-14 C7,-8 7,6 8.4,12" fill="none" stroke="#666" stroke-width="1.6" stroke-linejoin="round" stroke-linecap="round" />
<path d="M-14.1,21.6 L-14.5,-2.2 C-14.4,-7 -13.6,-11 -12.2,-14.2 C-11,-16.6 -9.6,-18 -7.7,-18.7 L-3,-19.1 L-2.5,-22.1 L5,-22.3 L6,-18.7 C6.6,-18.4 7,-18 7.2,-17.4 C8.2,-8 8.2,4 6.6,13.4 L5.2,20.7 L1.5,22.5 L-12.4,22.5 Z" fill="#fff" stroke="#333" stroke-width="1.15" stroke-linejoin="round" stroke-linecap="round" />
<path d="M-1.6,-21 L4,-21.2" fill="none" stroke="#666" stroke-width="0.8" stroke-linejoin="round" stroke-linecap="round" />
<path d="M5.4,-17 C6.6,-8 6.4,4 5,13" fill="none" stroke="#777" stroke-width="1.0" stroke-linejoin="round" stroke-linecap="round" />
<path d="M-8.6,-6.4 l2.8,0 m-2.8,1.6 l2.8,0 m-2.8,1.6 l2.8,0 m-1.4,-4 l0,4.6" fill="none" stroke="#222" stroke-width="0.8" stroke-linejoin="round" stroke-linecap="round" />
<path d="M-2.4,-3 C-3.6,-4.6 -2.6,-6.8 -0.6,-6.8 C1.4,-6.8 2.4,-4.6 1.2,-3" fill="none" stroke="#222" stroke-width="0.9" stroke-linejoin="round" stroke-linecap="round" />
<path d="M-13.6,-1.3 L6.6,-1.6 L6.4,7.2 L-13.6,7.9 Z" fill="#fff" stroke="#222" stroke-width="1.0" stroke-linejoin="round" stroke-linecap="round" />
<path d="M-9.6,-1.3 L-9.6,7.8 M-7.4,-1.3 L-7.4,7.7" fill="none" stroke="#333" stroke-width="1.0" stroke-linejoin="round" stroke-linecap="round" />
<path d="M-3,-1.4 L-3,7.6 M-0.6,-1.4 L-0.6,7.5 M3,-1.5 L3,7.4" fill="none" stroke="#333" stroke-width="1.0" stroke-linejoin="round" stroke-linecap="round" />
<path d="M-6.4,1 L-4,1 L-4,6.4 L-6.4,6.4 Z" fill="#999" stroke="#555" stroke-width="0.5" stroke-linejoin="round" stroke-linecap="round" />
<path d="M-13.6,9.6 L6.2,8.8" fill="none" stroke="#444" stroke-width="1.3" stroke-linejoin="round" stroke-linecap="round" />
<path d="M-12.2,10.6 L5.4,10.4 L5,21 L-12,21.6 Z" fill="#fff" stroke="#333" stroke-width="0.9" stroke-linejoin="round" stroke-linecap="round" />
<path d="M-10.4,12.6 L-1.6,12.2 C0.4,14 0.4,17 -1.6,19 L-10.4,19.2 Z" fill="#666" stroke="#333" stroke-width="0.8" stroke-linejoin="round" stroke-linecap="round" />
<path d="M-8.6,14 L-5,14 L-5,17.6 L-8.6,17.6 Z" fill="#ddd" stroke="#222" stroke-width="0.5" stroke-linejoin="round" stroke-linecap="round" />
<path d="M-13,22.4 L2,22.6" fill="none" stroke="#444" stroke-width="1.2" stroke-linejoin="round" stroke-linecap="round" />
<path d="M-14.3,-9.1 h-3 v2.8 h3" fill="#fff" stroke="#333" stroke-width="1.0" stroke-linejoin="round" stroke-linecap="round" />
<path d="M-14.3,5.6 h-2.6 v3.6 h2.6" fill="#fff" stroke="#333" stroke-width="1.0" stroke-linejoin="round" stroke-linecap="round" />
</g>
<path d="M841,509.6 l2.6,-0.4 l1,6.4 l-2.6,0.4 Z" fill="#fff" stroke="#333" stroke-width="1.0" stroke-linejoin="round" stroke-linecap="round" />
<path d="M844,512.8 l3,0.5" fill="none" stroke="#333" stroke-width="1.6" stroke-linejoin="round" stroke-linecap="round" />
<text transform="translate(215,256.7) scale(1,1.08)" class="lb">5</text>
<line x1="222.0" y1="262.0" x2="244.4" y2="300.3" stroke="#7c7c7c" stroke-width="1.0"/>
<polygon points="253.5,315.8 240.8,302.4 248.0,298.1" fill="#0a0a0a"/>
<text transform="translate(306.6,248.3) scale(1,1.08)" class="lb">2</text>
<line x1="318.0" y1="263.8" x2="360.7" y2="343.9" stroke="#7c7c7c" stroke-width="1.0"/>
<polygon points="370.4,362.0 357.0,345.9 364.5,341.9" fill="#0a0a0a"/>
<text transform="translate(344.4,249.1) scale(1,1.08)" class="lb">3</text>
<line x1="350.8" y1="263.8" x2="384.7" y2="358.1" stroke="#7c7c7c" stroke-width="1.0"/>
<polygon points="391.6,377.4 380.7,359.5 388.6,356.7" fill="#0a0a0a"/>
<text transform="translate(376.8,249.1) scale(1,1.08)" class="lb">12</text>
<line x1="388.8" y1="263.8" x2="410.7" y2="336.0" stroke="#7c7c7c" stroke-width="1.0"/>
<polygon points="416.6,355.6 406.6,337.2 414.7,334.8" fill="#0a0a0a"/>
<text transform="translate(481.6,237.1) scale(1,1.08)" class="lb">22</text>
<line x1="480.0" y1="247.5" x2="433.5" y2="321.6" stroke="#7c7c7c" stroke-width="1.0"/>
<polygon points="422.6,339.0 429.9,319.4 437.1,323.9" fill="#0a0a0a"/>
<text transform="translate(481.6,278.3) scale(1,1.08)" class="lb">21</text>
<line x1="480.0" y1="290.5" x2="436.0" y2="359.9" stroke="#7c7c7c" stroke-width="1.0"/>
<polygon points="425.0,377.2 432.4,357.6 439.5,362.1" fill="#0a0a0a"/>
<text transform="translate(482.4,329.1) scale(1,1.08)" class="lb">20</text>
<line x1="479.5" y1="333.0" x2="439.0" y2="376.1" stroke="#7c7c7c" stroke-width="1.0"/>
<polygon points="425.0,391.0 436.0,373.2 442.1,378.9" fill="#0a0a0a"/>
<text transform="translate(555,300.1) scale(1,1.08)" class="lb">4</text>
<line x1="552.5" y1="309.3" x2="514.1" y2="353.4" stroke="#7c7c7c" stroke-width="1.0"/>
<polygon points="500.6,368.8 510.9,350.6 517.2,356.1" fill="#0a0a0a"/>
<text transform="translate(645.4,300.1) scale(1,1.08)" class="lb">7</text>
<line x1="646.3" y1="310.0" x2="618.1" y2="450.1" stroke="#7c7c7c" stroke-width="1.0"/>
<polygon points="614.0,470.2 613.9,449.3 622.2,450.9" fill="#0a0a0a"/>
<text transform="translate(544.6,375.1) scale(1,1.08)" class="lb">11</text>
<line x1="538.8" y1="378.8" x2="464.9" y2="413.8" stroke="#7c7c7c" stroke-width="1.0"/>
<polygon points="446.4,422.6 463.1,410.0 466.7,417.6" fill="#0a0a0a"/>
<text transform="translate(701.8,358.1) scale(1,1.08)" class="lb">11</text>
<line x1="722.5" y1="362.0" x2="785.1" y2="391.5" stroke="#7c7c7c" stroke-width="1.0"/>
<polygon points="803.6,400.2 783.3,395.3 786.8,387.7" fill="#0a0a0a"/>
<text transform="translate(893.6,220.1) scale(1,1.08)" class="lb">6</text>
<line x1="906.3" y1="230.0" x2="928.5" y2="267.4" stroke="#7c7c7c" stroke-width="1.0"/>
<polygon points="937.4,282.4 924.9,269.5 932.1,265.2" fill="#0a0a0a"/>
<text transform="translate(249.4,454.5) scale(1,1.08)" class="lb">21</text>
<line x1="268.8" y1="445.0" x2="371.5" y2="396.4" stroke="#7c7c7c" stroke-width="1.0"/>
<polygon points="390.0,387.6 373.3,400.2 369.7,392.6" fill="#0a0a0a"/>
<text transform="translate(955.6,536.3) scale(1,1.08)" class="lb">18</text>
<line x1="950.0" y1="531.0" x2="863.6" y2="517.1" stroke="#7c7c7c" stroke-width="1.0"/>
<polygon points="845.8,514.2 864.2,512.9 862.9,521.2" fill="#0a0a0a"/>
<text transform="translate(956.6,639.1) scale(1,1.08)" class="lb">1</text>
<line x1="945.0" y1="627.0" x2="852.9" y2="581.1" stroke="#7c7c7c" stroke-width="1.0"/>
<polygon points="834.5,572.0 854.7,577.4 851.0,584.9" fill="#0a0a0a"/>
<text transform="translate(842.4,673.1) scale(1,1.08)" class="lb">16</text>
<line x1="837.5" y1="658.5" x2="728.8" y2="592.4" stroke="#7c7c7c" stroke-width="1.0"/>
<polygon points="711.3,581.8 731.0,588.9 726.6,596.0" fill="#0a0a0a"/>
<text transform="translate(478.6,677.5) scale(1,1.08)" class="lb">17</text>
<line x1="470.5" y1="666.0" x2="413.2" y2="632.4" stroke="#7c7c7c" stroke-width="1.0"/>
<polygon points="395.5,622.0 415.3,628.8 411.1,636.0" fill="#0a0a0a"/>
<text transform="translate(653.4,648.9) scale(1,1.08)" class="lb">19</text>
<line x1="652.5" y1="632.3" x2="610.9" y2="563.0" stroke="#7c7c7c" stroke-width="1.0"/>
<polygon points="600.3,545.4 614.5,560.8 607.3,565.1" fill="#0a0a0a"/>
</svg>
</body></html>
